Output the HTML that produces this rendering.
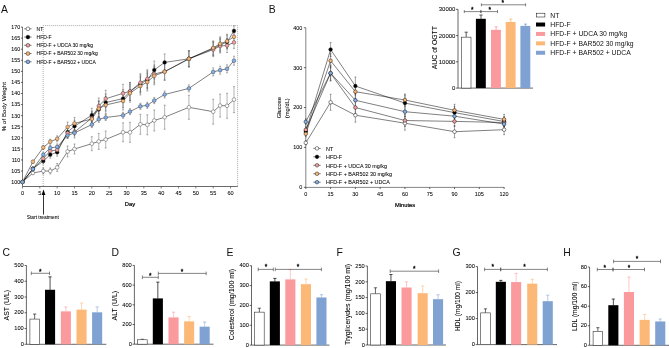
<!DOCTYPE html>
<html><head><meta charset="utf-8"><style>
html,body{margin:0;padding:0;background:#fff;}
svg{display:block;will-change:transform;}
text{font-family:"Liberation Sans",sans-serif;stroke:#000;stroke-width:0.06px;}
text.t{stroke:#000;stroke-width:0.05px;fill:#000;}
text.t2{stroke:none;fill:#111;}
</style></head><body>
<svg width="669" height="348" viewBox="0 0 669 348">
<rect width="669" height="348" fill="#fff"/>
<text class="t2" x="0.9" y="13.2" font-size="10.4" text-anchor="start" fill="#000" font-weight="normal" >A</text>
<text class="t2" x="268.8" y="12.6" font-size="10.4" text-anchor="start" fill="#000" font-weight="normal" >B</text>
<text class="t2" x="2.5" y="256.2" font-size="10.4" text-anchor="start" fill="#000" font-weight="normal" >C</text>
<text class="t2" x="111.4" y="256.2" font-size="10.4" text-anchor="start" fill="#000" font-weight="normal" >D</text>
<text class="t2" x="226.6" y="256.2" font-size="10.4" text-anchor="start" fill="#000" font-weight="normal" >E</text>
<text class="t2" x="336.6" y="256.2" font-size="10.4" text-anchor="start" fill="#000" font-weight="normal" >F</text>
<text class="t2" x="452.4" y="256.2" font-size="10.4" text-anchor="start" fill="#000" font-weight="normal" >G</text>
<text class="t2" x="563.3" y="256.2" font-size="10.4" text-anchor="start" fill="#000" font-weight="normal" >H</text>
<path d="M43.2,186 V25.6 H237.6 V186" fill="none" stroke="#555" stroke-width="0.5" stroke-dasharray="1,1"/>
<line x1="22.5" y1="27.05" x2="22.5" y2="186.5" stroke="#222" stroke-width="0.6" />
<line x1="22.5" y1="186.5" x2="237.8" y2="186.5" stroke="#444" stroke-width="0.8" />
<line x1="20.9" y1="182.1" x2="22.5" y2="182.1" stroke="#000" stroke-width="0.6" />
<text class="t" x="20.1" y="184" font-size="5.3" text-anchor="end" fill="#000" font-weight="normal" >100</text>
<line x1="20.9" y1="171.03" x2="22.5" y2="171.03" stroke="#000" stroke-width="0.6" />
<text class="t" x="20.1" y="172.93" font-size="5.3" text-anchor="end" fill="#000" font-weight="normal" >105</text>
<line x1="20.9" y1="159.95" x2="22.5" y2="159.95" stroke="#000" stroke-width="0.6" />
<text class="t" x="20.1" y="161.85" font-size="5.3" text-anchor="end" fill="#000" font-weight="normal" >110</text>
<line x1="20.9" y1="148.88" x2="22.5" y2="148.88" stroke="#000" stroke-width="0.6" />
<text class="t" x="20.1" y="150.78" font-size="5.3" text-anchor="end" fill="#000" font-weight="normal" >115</text>
<line x1="20.9" y1="137.8" x2="22.5" y2="137.8" stroke="#000" stroke-width="0.6" />
<text class="t" x="20.1" y="139.7" font-size="5.3" text-anchor="end" fill="#000" font-weight="normal" >120</text>
<line x1="20.9" y1="126.72" x2="22.5" y2="126.72" stroke="#000" stroke-width="0.6" />
<text class="t" x="20.1" y="128.62" font-size="5.3" text-anchor="end" fill="#000" font-weight="normal" >125</text>
<line x1="20.9" y1="115.65" x2="22.5" y2="115.65" stroke="#000" stroke-width="0.6" />
<text class="t" x="20.1" y="117.55" font-size="5.3" text-anchor="end" fill="#000" font-weight="normal" >130</text>
<line x1="20.9" y1="104.58" x2="22.5" y2="104.58" stroke="#000" stroke-width="0.6" />
<text class="t" x="20.1" y="106.48" font-size="5.3" text-anchor="end" fill="#000" font-weight="normal" >135</text>
<line x1="20.9" y1="93.5" x2="22.5" y2="93.5" stroke="#000" stroke-width="0.6" />
<text class="t" x="20.1" y="95.4" font-size="5.3" text-anchor="end" fill="#000" font-weight="normal" >140</text>
<line x1="20.9" y1="82.42" x2="22.5" y2="82.42" stroke="#000" stroke-width="0.6" />
<text class="t" x="20.1" y="84.33" font-size="5.3" text-anchor="end" fill="#000" font-weight="normal" >145</text>
<line x1="20.9" y1="71.35" x2="22.5" y2="71.35" stroke="#000" stroke-width="0.6" />
<text class="t" x="20.1" y="73.25" font-size="5.3" text-anchor="end" fill="#000" font-weight="normal" >150</text>
<line x1="20.9" y1="60.28" x2="22.5" y2="60.28" stroke="#000" stroke-width="0.6" />
<text class="t" x="20.1" y="62.18" font-size="5.3" text-anchor="end" fill="#000" font-weight="normal" >155</text>
<line x1="20.9" y1="49.2" x2="22.5" y2="49.2" stroke="#000" stroke-width="0.6" />
<text class="t" x="20.1" y="51.1" font-size="5.3" text-anchor="end" fill="#000" font-weight="normal" >160</text>
<line x1="20.9" y1="38.12" x2="22.5" y2="38.12" stroke="#000" stroke-width="0.6" />
<text class="t" x="20.1" y="40.02" font-size="5.3" text-anchor="end" fill="#000" font-weight="normal" >165</text>
<line x1="20.9" y1="27.05" x2="22.5" y2="27.05" stroke="#000" stroke-width="0.6" />
<text class="t" x="20.1" y="28.95" font-size="5.3" text-anchor="end" fill="#000" font-weight="normal" >170</text>
<line x1="22.5" y1="186.5" x2="22.5" y2="188.5" stroke="#333" stroke-width="0.6" />
<text class="t" x="22.5" y="194.8" font-size="5.6" text-anchor="middle" fill="#000" font-weight="normal" >0</text>
<line x1="39.84" y1="186.5" x2="39.84" y2="188.5" stroke="#333" stroke-width="0.6" />
<text class="t" x="39.84" y="194.8" font-size="5.6" text-anchor="middle" fill="#000" font-weight="normal" >5</text>
<line x1="57.17" y1="186.5" x2="57.17" y2="188.5" stroke="#333" stroke-width="0.6" />
<text class="t" x="57.17" y="194.8" font-size="5.6" text-anchor="middle" fill="#000" font-weight="normal" >10</text>
<line x1="74.5" y1="186.5" x2="74.5" y2="188.5" stroke="#333" stroke-width="0.6" />
<text class="t" x="74.5" y="194.8" font-size="5.6" text-anchor="middle" fill="#000" font-weight="normal" >15</text>
<line x1="91.84" y1="186.5" x2="91.84" y2="188.5" stroke="#333" stroke-width="0.6" />
<text class="t" x="91.84" y="194.8" font-size="5.6" text-anchor="middle" fill="#000" font-weight="normal" >20</text>
<line x1="109.17" y1="186.5" x2="109.17" y2="188.5" stroke="#333" stroke-width="0.6" />
<text class="t" x="109.17" y="194.8" font-size="5.6" text-anchor="middle" fill="#000" font-weight="normal" >25</text>
<line x1="126.51" y1="186.5" x2="126.51" y2="188.5" stroke="#333" stroke-width="0.6" />
<text class="t" x="126.51" y="194.8" font-size="5.6" text-anchor="middle" fill="#000" font-weight="normal" >30</text>
<line x1="143.84" y1="186.5" x2="143.84" y2="188.5" stroke="#333" stroke-width="0.6" />
<text class="t" x="143.84" y="194.8" font-size="5.6" text-anchor="middle" fill="#000" font-weight="normal" >35</text>
<line x1="161.18" y1="186.5" x2="161.18" y2="188.5" stroke="#333" stroke-width="0.6" />
<text class="t" x="161.18" y="194.8" font-size="5.6" text-anchor="middle" fill="#000" font-weight="normal" >40</text>
<line x1="178.52" y1="186.5" x2="178.52" y2="188.5" stroke="#333" stroke-width="0.6" />
<text class="t" x="178.52" y="194.8" font-size="5.6" text-anchor="middle" fill="#000" font-weight="normal" >45</text>
<line x1="195.85" y1="186.5" x2="195.85" y2="188.5" stroke="#333" stroke-width="0.6" />
<text class="t" x="195.85" y="194.8" font-size="5.6" text-anchor="middle" fill="#000" font-weight="normal" >50</text>
<line x1="213.19" y1="186.5" x2="213.19" y2="188.5" stroke="#333" stroke-width="0.6" />
<text class="t" x="213.19" y="194.8" font-size="5.6" text-anchor="middle" fill="#000" font-weight="normal" >55</text>
<line x1="230.52" y1="186.5" x2="230.52" y2="188.5" stroke="#333" stroke-width="0.6" />
<text class="t" x="230.52" y="194.8" font-size="5.6" text-anchor="middle" fill="#000" font-weight="normal" >60</text>
<text x="0" y="0" font-size="6.2" text-anchor="middle" fill="#000" font-weight="normal" transform="translate(5.83,106.6) rotate(-90)">% of Body Weight</text>
<text x="130" y="205.8" font-size="5.8" text-anchor="middle" fill="#000" font-weight="normal" style="stroke-width:0.2px">Day</text>
<line x1="43.5" y1="193.5" x2="43.5" y2="214.5" stroke="#000" stroke-width="0.8" />
<path d="M43.5,189.6 L41.6,195 L45.4,195 Z" fill="#000"/>
<text class="t" x="42.8" y="219" font-size="4.85" text-anchor="middle" fill="#000" font-weight="normal" >Start treatment</text>
<line x1="32.9" y1="171.5" x2="32.9" y2="174.5" stroke="#555" stroke-width="0.45" />
<line x1="31.9" y1="171.5" x2="33.9" y2="171.5" stroke="#555" stroke-width="0.45" />
<line x1="31.9" y1="174.5" x2="33.9" y2="174.5" stroke="#555" stroke-width="0.45" />
<line x1="43.3" y1="168" x2="43.3" y2="174" stroke="#555" stroke-width="0.45" />
<line x1="42.3" y1="168" x2="44.3" y2="168" stroke="#555" stroke-width="0.45" />
<line x1="42.3" y1="174" x2="44.3" y2="174" stroke="#555" stroke-width="0.45" />
<line x1="50.24" y1="168" x2="50.24" y2="174" stroke="#555" stroke-width="0.45" />
<line x1="49.24" y1="168" x2="51.24" y2="168" stroke="#555" stroke-width="0.45" />
<line x1="49.24" y1="174" x2="51.24" y2="174" stroke="#555" stroke-width="0.45" />
<line x1="57.17" y1="163.5" x2="57.17" y2="171.5" stroke="#555" stroke-width="0.45" />
<line x1="56.17" y1="163.5" x2="58.17" y2="163.5" stroke="#555" stroke-width="0.45" />
<line x1="56.17" y1="171.5" x2="58.17" y2="171.5" stroke="#555" stroke-width="0.45" />
<line x1="67.57" y1="146" x2="67.57" y2="157" stroke="#555" stroke-width="0.45" />
<line x1="66.57" y1="146" x2="68.57" y2="146" stroke="#555" stroke-width="0.45" />
<line x1="66.57" y1="157" x2="68.57" y2="157" stroke="#555" stroke-width="0.45" />
<line x1="74.5" y1="144" x2="74.5" y2="154" stroke="#555" stroke-width="0.45" />
<line x1="73.5" y1="144" x2="75.5" y2="144" stroke="#555" stroke-width="0.45" />
<line x1="73.5" y1="154" x2="75.5" y2="154" stroke="#555" stroke-width="0.45" />
<line x1="91.84" y1="136.7" x2="91.84" y2="150.7" stroke="#555" stroke-width="0.45" />
<line x1="90.84" y1="136.7" x2="92.84" y2="136.7" stroke="#555" stroke-width="0.45" />
<line x1="90.84" y1="150.7" x2="92.84" y2="150.7" stroke="#555" stroke-width="0.45" />
<line x1="98.77" y1="133.4" x2="98.77" y2="149.4" stroke="#555" stroke-width="0.45" />
<line x1="97.77" y1="133.4" x2="99.77" y2="133.4" stroke="#555" stroke-width="0.45" />
<line x1="97.77" y1="149.4" x2="99.77" y2="149.4" stroke="#555" stroke-width="0.45" />
<line x1="105.71" y1="131" x2="105.71" y2="148" stroke="#555" stroke-width="0.45" />
<line x1="104.71" y1="131" x2="106.71" y2="131" stroke="#555" stroke-width="0.45" />
<line x1="104.71" y1="148" x2="106.71" y2="148" stroke="#555" stroke-width="0.45" />
<line x1="123.04" y1="122.8" x2="123.04" y2="141.8" stroke="#555" stroke-width="0.45" />
<line x1="122.04" y1="122.8" x2="124.04" y2="122.8" stroke="#555" stroke-width="0.45" />
<line x1="122.04" y1="141.8" x2="124.04" y2="141.8" stroke="#555" stroke-width="0.45" />
<line x1="129.98" y1="122.3" x2="129.98" y2="142.3" stroke="#555" stroke-width="0.45" />
<line x1="128.98" y1="122.3" x2="130.98" y2="122.3" stroke="#555" stroke-width="0.45" />
<line x1="128.98" y1="142.3" x2="130.98" y2="142.3" stroke="#555" stroke-width="0.45" />
<line x1="140.38" y1="114.3" x2="140.38" y2="134.3" stroke="#555" stroke-width="0.45" />
<line x1="139.38" y1="114.3" x2="141.38" y2="114.3" stroke="#555" stroke-width="0.45" />
<line x1="139.38" y1="134.3" x2="141.38" y2="134.3" stroke="#555" stroke-width="0.45" />
<line x1="147.31" y1="114.8" x2="147.31" y2="134.8" stroke="#555" stroke-width="0.45" />
<line x1="146.31" y1="114.8" x2="148.31" y2="114.8" stroke="#555" stroke-width="0.45" />
<line x1="146.31" y1="134.8" x2="148.31" y2="134.8" stroke="#555" stroke-width="0.45" />
<line x1="154.25" y1="110" x2="154.25" y2="131" stroke="#555" stroke-width="0.45" />
<line x1="153.25" y1="110" x2="155.25" y2="110" stroke="#555" stroke-width="0.45" />
<line x1="153.25" y1="131" x2="155.25" y2="131" stroke="#555" stroke-width="0.45" />
<line x1="164.65" y1="105.2" x2="164.65" y2="129.2" stroke="#555" stroke-width="0.45" />
<line x1="163.65" y1="105.2" x2="165.65" y2="105.2" stroke="#555" stroke-width="0.45" />
<line x1="163.65" y1="129.2" x2="165.65" y2="129.2" stroke="#555" stroke-width="0.45" />
<line x1="188.92" y1="95.3" x2="188.92" y2="119.3" stroke="#555" stroke-width="0.45" />
<line x1="187.92" y1="95.3" x2="189.92" y2="95.3" stroke="#555" stroke-width="0.45" />
<line x1="187.92" y1="119.3" x2="189.92" y2="119.3" stroke="#555" stroke-width="0.45" />
<line x1="213.19" y1="99.2" x2="213.19" y2="124.2" stroke="#555" stroke-width="0.45" />
<line x1="212.19" y1="99.2" x2="214.19" y2="99.2" stroke="#555" stroke-width="0.45" />
<line x1="212.19" y1="124.2" x2="214.19" y2="124.2" stroke="#555" stroke-width="0.45" />
<line x1="220.12" y1="94.1" x2="220.12" y2="117.1" stroke="#555" stroke-width="0.45" />
<line x1="219.12" y1="94.1" x2="221.12" y2="94.1" stroke="#555" stroke-width="0.45" />
<line x1="219.12" y1="117.1" x2="221.12" y2="117.1" stroke="#555" stroke-width="0.45" />
<line x1="227.05" y1="93.3" x2="227.05" y2="118.3" stroke="#555" stroke-width="0.45" />
<line x1="226.05" y1="93.3" x2="228.05" y2="93.3" stroke="#555" stroke-width="0.45" />
<line x1="226.05" y1="118.3" x2="228.05" y2="118.3" stroke="#555" stroke-width="0.45" />
<line x1="233.99" y1="86.6" x2="233.99" y2="112.6" stroke="#555" stroke-width="0.45" />
<line x1="232.99" y1="86.6" x2="234.99" y2="86.6" stroke="#555" stroke-width="0.45" />
<line x1="232.99" y1="112.6" x2="234.99" y2="112.6" stroke="#555" stroke-width="0.45" />
<line x1="32.9" y1="166.8" x2="32.9" y2="170.8" stroke="#555" stroke-width="0.45" />
<line x1="31.9" y1="166.8" x2="33.9" y2="166.8" stroke="#555" stroke-width="0.45" />
<line x1="31.9" y1="170.8" x2="33.9" y2="170.8" stroke="#555" stroke-width="0.45" />
<line x1="43.3" y1="158" x2="43.3" y2="164" stroke="#555" stroke-width="0.45" />
<line x1="42.3" y1="158" x2="44.3" y2="158" stroke="#555" stroke-width="0.45" />
<line x1="42.3" y1="164" x2="44.3" y2="164" stroke="#555" stroke-width="0.45" />
<line x1="50.24" y1="151.2" x2="50.24" y2="158.2" stroke="#555" stroke-width="0.45" />
<line x1="49.24" y1="151.2" x2="51.24" y2="151.2" stroke="#555" stroke-width="0.45" />
<line x1="49.24" y1="158.2" x2="51.24" y2="158.2" stroke="#555" stroke-width="0.45" />
<line x1="57.17" y1="148.2" x2="57.17" y2="156.2" stroke="#555" stroke-width="0.45" />
<line x1="56.17" y1="148.2" x2="58.17" y2="148.2" stroke="#555" stroke-width="0.45" />
<line x1="56.17" y1="156.2" x2="58.17" y2="156.2" stroke="#555" stroke-width="0.45" />
<line x1="67.57" y1="127" x2="67.57" y2="137" stroke="#555" stroke-width="0.45" />
<line x1="66.57" y1="127" x2="68.57" y2="127" stroke="#555" stroke-width="0.45" />
<line x1="66.57" y1="137" x2="68.57" y2="137" stroke="#555" stroke-width="0.45" />
<line x1="74.5" y1="120.2" x2="74.5" y2="132.2" stroke="#555" stroke-width="0.45" />
<line x1="73.5" y1="120.2" x2="75.5" y2="120.2" stroke="#555" stroke-width="0.45" />
<line x1="73.5" y1="132.2" x2="75.5" y2="132.2" stroke="#555" stroke-width="0.45" />
<line x1="91.84" y1="108.2" x2="91.84" y2="122.2" stroke="#555" stroke-width="0.45" />
<line x1="90.84" y1="108.2" x2="92.84" y2="108.2" stroke="#555" stroke-width="0.45" />
<line x1="90.84" y1="122.2" x2="92.84" y2="122.2" stroke="#555" stroke-width="0.45" />
<line x1="98.77" y1="101.5" x2="98.77" y2="117.5" stroke="#555" stroke-width="0.45" />
<line x1="97.77" y1="101.5" x2="99.77" y2="101.5" stroke="#555" stroke-width="0.45" />
<line x1="97.77" y1="117.5" x2="99.77" y2="117.5" stroke="#555" stroke-width="0.45" />
<line x1="105.71" y1="94" x2="105.71" y2="111" stroke="#555" stroke-width="0.45" />
<line x1="104.71" y1="94" x2="106.71" y2="94" stroke="#555" stroke-width="0.45" />
<line x1="104.71" y1="111" x2="106.71" y2="111" stroke="#555" stroke-width="0.45" />
<line x1="123.04" y1="89.6" x2="123.04" y2="107.6" stroke="#555" stroke-width="0.45" />
<line x1="122.04" y1="89.6" x2="124.04" y2="89.6" stroke="#555" stroke-width="0.45" />
<line x1="122.04" y1="107.6" x2="124.04" y2="107.6" stroke="#555" stroke-width="0.45" />
<line x1="129.98" y1="82.5" x2="129.98" y2="100.5" stroke="#555" stroke-width="0.45" />
<line x1="128.98" y1="82.5" x2="130.98" y2="82.5" stroke="#555" stroke-width="0.45" />
<line x1="128.98" y1="100.5" x2="130.98" y2="100.5" stroke="#555" stroke-width="0.45" />
<line x1="140.38" y1="75" x2="140.38" y2="93" stroke="#555" stroke-width="0.45" />
<line x1="139.38" y1="75" x2="141.38" y2="75" stroke="#555" stroke-width="0.45" />
<line x1="139.38" y1="93" x2="141.38" y2="93" stroke="#555" stroke-width="0.45" />
<line x1="147.31" y1="71" x2="147.31" y2="89" stroke="#555" stroke-width="0.45" />
<line x1="146.31" y1="71" x2="148.31" y2="71" stroke="#555" stroke-width="0.45" />
<line x1="146.31" y1="89" x2="148.31" y2="89" stroke="#555" stroke-width="0.45" />
<line x1="154.25" y1="61" x2="154.25" y2="79" stroke="#555" stroke-width="0.45" />
<line x1="153.25" y1="61" x2="155.25" y2="61" stroke="#555" stroke-width="0.45" />
<line x1="153.25" y1="79" x2="155.25" y2="79" stroke="#555" stroke-width="0.45" />
<line x1="164.65" y1="53.9" x2="164.65" y2="70.9" stroke="#555" stroke-width="0.45" />
<line x1="163.65" y1="53.9" x2="165.65" y2="53.9" stroke="#555" stroke-width="0.45" />
<line x1="163.65" y1="70.9" x2="165.65" y2="70.9" stroke="#555" stroke-width="0.45" />
<line x1="188.92" y1="50.8" x2="188.92" y2="66.8" stroke="#555" stroke-width="0.45" />
<line x1="187.92" y1="50.8" x2="189.92" y2="50.8" stroke="#555" stroke-width="0.45" />
<line x1="187.92" y1="66.8" x2="189.92" y2="66.8" stroke="#555" stroke-width="0.45" />
<line x1="213.19" y1="41.5" x2="213.19" y2="55.5" stroke="#555" stroke-width="0.45" />
<line x1="212.19" y1="41.5" x2="214.19" y2="41.5" stroke="#555" stroke-width="0.45" />
<line x1="212.19" y1="55.5" x2="214.19" y2="55.5" stroke="#555" stroke-width="0.45" />
<line x1="220.12" y1="38" x2="220.12" y2="52" stroke="#555" stroke-width="0.45" />
<line x1="219.12" y1="38" x2="221.12" y2="38" stroke="#555" stroke-width="0.45" />
<line x1="219.12" y1="52" x2="221.12" y2="52" stroke="#555" stroke-width="0.45" />
<line x1="227.05" y1="35" x2="227.05" y2="49" stroke="#555" stroke-width="0.45" />
<line x1="226.05" y1="35" x2="228.05" y2="35" stroke="#555" stroke-width="0.45" />
<line x1="226.05" y1="49" x2="228.05" y2="49" stroke="#555" stroke-width="0.45" />
<line x1="233.99" y1="25.9" x2="233.99" y2="35.9" stroke="#555" stroke-width="0.45" />
<line x1="232.99" y1="25.9" x2="234.99" y2="25.9" stroke="#555" stroke-width="0.45" />
<line x1="232.99" y1="35.9" x2="234.99" y2="35.9" stroke="#555" stroke-width="0.45" />
<line x1="32.9" y1="167" x2="32.9" y2="171" stroke="#555" stroke-width="0.45" />
<line x1="31.9" y1="167" x2="33.9" y2="167" stroke="#555" stroke-width="0.45" />
<line x1="31.9" y1="171" x2="33.9" y2="171" stroke="#555" stroke-width="0.45" />
<line x1="43.3" y1="155.5" x2="43.3" y2="161.5" stroke="#555" stroke-width="0.45" />
<line x1="42.3" y1="155.5" x2="44.3" y2="155.5" stroke="#555" stroke-width="0.45" />
<line x1="42.3" y1="161.5" x2="44.3" y2="161.5" stroke="#555" stroke-width="0.45" />
<line x1="50.24" y1="147.5" x2="50.24" y2="154.5" stroke="#555" stroke-width="0.45" />
<line x1="49.24" y1="147.5" x2="51.24" y2="147.5" stroke="#555" stroke-width="0.45" />
<line x1="49.24" y1="154.5" x2="51.24" y2="154.5" stroke="#555" stroke-width="0.45" />
<line x1="57.17" y1="146" x2="57.17" y2="154" stroke="#555" stroke-width="0.45" />
<line x1="56.17" y1="146" x2="58.17" y2="146" stroke="#555" stroke-width="0.45" />
<line x1="56.17" y1="154" x2="58.17" y2="154" stroke="#555" stroke-width="0.45" />
<line x1="67.57" y1="128" x2="67.57" y2="138" stroke="#555" stroke-width="0.45" />
<line x1="66.57" y1="128" x2="68.57" y2="128" stroke="#555" stroke-width="0.45" />
<line x1="66.57" y1="138" x2="68.57" y2="138" stroke="#555" stroke-width="0.45" />
<line x1="74.5" y1="126" x2="74.5" y2="138" stroke="#555" stroke-width="0.45" />
<line x1="73.5" y1="126" x2="75.5" y2="126" stroke="#555" stroke-width="0.45" />
<line x1="73.5" y1="138" x2="75.5" y2="138" stroke="#555" stroke-width="0.45" />
<line x1="91.84" y1="111" x2="91.84" y2="125" stroke="#555" stroke-width="0.45" />
<line x1="90.84" y1="111" x2="92.84" y2="111" stroke="#555" stroke-width="0.45" />
<line x1="90.84" y1="125" x2="92.84" y2="125" stroke="#555" stroke-width="0.45" />
<line x1="98.77" y1="98" x2="98.77" y2="114" stroke="#555" stroke-width="0.45" />
<line x1="97.77" y1="98" x2="99.77" y2="98" stroke="#555" stroke-width="0.45" />
<line x1="97.77" y1="114" x2="99.77" y2="114" stroke="#555" stroke-width="0.45" />
<line x1="105.71" y1="90.3" x2="105.71" y2="107.3" stroke="#555" stroke-width="0.45" />
<line x1="104.71" y1="90.3" x2="106.71" y2="90.3" stroke="#555" stroke-width="0.45" />
<line x1="104.71" y1="107.3" x2="106.71" y2="107.3" stroke="#555" stroke-width="0.45" />
<line x1="123.04" y1="84.3" x2="123.04" y2="102.3" stroke="#555" stroke-width="0.45" />
<line x1="122.04" y1="84.3" x2="124.04" y2="84.3" stroke="#555" stroke-width="0.45" />
<line x1="122.04" y1="102.3" x2="124.04" y2="102.3" stroke="#555" stroke-width="0.45" />
<line x1="129.98" y1="82.4" x2="129.98" y2="100.4" stroke="#555" stroke-width="0.45" />
<line x1="128.98" y1="82.4" x2="130.98" y2="82.4" stroke="#555" stroke-width="0.45" />
<line x1="128.98" y1="100.4" x2="130.98" y2="100.4" stroke="#555" stroke-width="0.45" />
<line x1="140.38" y1="73.7" x2="140.38" y2="91.7" stroke="#555" stroke-width="0.45" />
<line x1="139.38" y1="73.7" x2="141.38" y2="73.7" stroke="#555" stroke-width="0.45" />
<line x1="139.38" y1="91.7" x2="141.38" y2="91.7" stroke="#555" stroke-width="0.45" />
<line x1="147.31" y1="69.8" x2="147.31" y2="87.8" stroke="#555" stroke-width="0.45" />
<line x1="146.31" y1="69.8" x2="148.31" y2="69.8" stroke="#555" stroke-width="0.45" />
<line x1="146.31" y1="87.8" x2="148.31" y2="87.8" stroke="#555" stroke-width="0.45" />
<line x1="154.25" y1="65" x2="154.25" y2="83" stroke="#555" stroke-width="0.45" />
<line x1="153.25" y1="65" x2="155.25" y2="65" stroke="#555" stroke-width="0.45" />
<line x1="153.25" y1="83" x2="155.25" y2="83" stroke="#555" stroke-width="0.45" />
<line x1="164.65" y1="63" x2="164.65" y2="80" stroke="#555" stroke-width="0.45" />
<line x1="163.65" y1="63" x2="165.65" y2="63" stroke="#555" stroke-width="0.45" />
<line x1="163.65" y1="80" x2="165.65" y2="80" stroke="#555" stroke-width="0.45" />
<line x1="188.92" y1="50.8" x2="188.92" y2="66.8" stroke="#555" stroke-width="0.45" />
<line x1="187.92" y1="50.8" x2="189.92" y2="50.8" stroke="#555" stroke-width="0.45" />
<line x1="187.92" y1="66.8" x2="189.92" y2="66.8" stroke="#555" stroke-width="0.45" />
<line x1="213.19" y1="42.6" x2="213.19" y2="56.6" stroke="#555" stroke-width="0.45" />
<line x1="212.19" y1="42.6" x2="214.19" y2="42.6" stroke="#555" stroke-width="0.45" />
<line x1="212.19" y1="56.6" x2="214.19" y2="56.6" stroke="#555" stroke-width="0.45" />
<line x1="220.12" y1="39" x2="220.12" y2="53" stroke="#555" stroke-width="0.45" />
<line x1="219.12" y1="39" x2="221.12" y2="39" stroke="#555" stroke-width="0.45" />
<line x1="219.12" y1="53" x2="221.12" y2="53" stroke="#555" stroke-width="0.45" />
<line x1="227.05" y1="38.5" x2="227.05" y2="52.5" stroke="#555" stroke-width="0.45" />
<line x1="226.05" y1="38.5" x2="228.05" y2="38.5" stroke="#555" stroke-width="0.45" />
<line x1="226.05" y1="52.5" x2="228.05" y2="52.5" stroke="#555" stroke-width="0.45" />
<line x1="233.99" y1="36.4" x2="233.99" y2="48.4" stroke="#555" stroke-width="0.45" />
<line x1="232.99" y1="36.4" x2="234.99" y2="36.4" stroke="#555" stroke-width="0.45" />
<line x1="232.99" y1="48.4" x2="234.99" y2="48.4" stroke="#555" stroke-width="0.45" />
<line x1="32.9" y1="160.2" x2="32.9" y2="163.2" stroke="#555" stroke-width="0.45" />
<line x1="31.9" y1="160.2" x2="33.9" y2="160.2" stroke="#555" stroke-width="0.45" />
<line x1="31.9" y1="163.2" x2="33.9" y2="163.2" stroke="#555" stroke-width="0.45" />
<line x1="43.3" y1="145.4" x2="43.3" y2="149.4" stroke="#555" stroke-width="0.45" />
<line x1="42.3" y1="145.4" x2="44.3" y2="145.4" stroke="#555" stroke-width="0.45" />
<line x1="42.3" y1="149.4" x2="44.3" y2="149.4" stroke="#555" stroke-width="0.45" />
<line x1="50.24" y1="139.2" x2="50.24" y2="144.2" stroke="#555" stroke-width="0.45" />
<line x1="49.24" y1="139.2" x2="51.24" y2="139.2" stroke="#555" stroke-width="0.45" />
<line x1="49.24" y1="144.2" x2="51.24" y2="144.2" stroke="#555" stroke-width="0.45" />
<line x1="57.17" y1="135.8" x2="57.17" y2="141.8" stroke="#555" stroke-width="0.45" />
<line x1="56.17" y1="135.8" x2="58.17" y2="135.8" stroke="#555" stroke-width="0.45" />
<line x1="56.17" y1="141.8" x2="58.17" y2="141.8" stroke="#555" stroke-width="0.45" />
<line x1="67.57" y1="122" x2="67.57" y2="132" stroke="#555" stroke-width="0.45" />
<line x1="66.57" y1="122" x2="68.57" y2="122" stroke="#555" stroke-width="0.45" />
<line x1="66.57" y1="132" x2="68.57" y2="132" stroke="#555" stroke-width="0.45" />
<line x1="74.5" y1="117.4" x2="74.5" y2="129.4" stroke="#555" stroke-width="0.45" />
<line x1="73.5" y1="117.4" x2="75.5" y2="117.4" stroke="#555" stroke-width="0.45" />
<line x1="73.5" y1="129.4" x2="75.5" y2="129.4" stroke="#555" stroke-width="0.45" />
<line x1="91.84" y1="112" x2="91.84" y2="126" stroke="#555" stroke-width="0.45" />
<line x1="90.84" y1="112" x2="92.84" y2="112" stroke="#555" stroke-width="0.45" />
<line x1="90.84" y1="126" x2="92.84" y2="126" stroke="#555" stroke-width="0.45" />
<line x1="98.77" y1="100.7" x2="98.77" y2="116.7" stroke="#555" stroke-width="0.45" />
<line x1="97.77" y1="100.7" x2="99.77" y2="100.7" stroke="#555" stroke-width="0.45" />
<line x1="97.77" y1="116.7" x2="99.77" y2="116.7" stroke="#555" stroke-width="0.45" />
<line x1="105.71" y1="96.5" x2="105.71" y2="113.5" stroke="#555" stroke-width="0.45" />
<line x1="104.71" y1="96.5" x2="106.71" y2="96.5" stroke="#555" stroke-width="0.45" />
<line x1="104.71" y1="113.5" x2="106.71" y2="113.5" stroke="#555" stroke-width="0.45" />
<line x1="123.04" y1="92" x2="123.04" y2="110" stroke="#555" stroke-width="0.45" />
<line x1="122.04" y1="92" x2="124.04" y2="92" stroke="#555" stroke-width="0.45" />
<line x1="122.04" y1="110" x2="124.04" y2="110" stroke="#555" stroke-width="0.45" />
<line x1="129.98" y1="84.2" x2="129.98" y2="102.2" stroke="#555" stroke-width="0.45" />
<line x1="128.98" y1="84.2" x2="130.98" y2="84.2" stroke="#555" stroke-width="0.45" />
<line x1="128.98" y1="102.2" x2="130.98" y2="102.2" stroke="#555" stroke-width="0.45" />
<line x1="140.38" y1="77" x2="140.38" y2="95" stroke="#555" stroke-width="0.45" />
<line x1="139.38" y1="77" x2="141.38" y2="77" stroke="#555" stroke-width="0.45" />
<line x1="139.38" y1="95" x2="141.38" y2="95" stroke="#555" stroke-width="0.45" />
<line x1="147.31" y1="73" x2="147.31" y2="91" stroke="#555" stroke-width="0.45" />
<line x1="146.31" y1="73" x2="148.31" y2="73" stroke="#555" stroke-width="0.45" />
<line x1="146.31" y1="91" x2="148.31" y2="91" stroke="#555" stroke-width="0.45" />
<line x1="154.25" y1="66.8" x2="154.25" y2="84.8" stroke="#555" stroke-width="0.45" />
<line x1="153.25" y1="66.8" x2="155.25" y2="66.8" stroke="#555" stroke-width="0.45" />
<line x1="153.25" y1="84.8" x2="155.25" y2="84.8" stroke="#555" stroke-width="0.45" />
<line x1="164.65" y1="63.3" x2="164.65" y2="80.3" stroke="#555" stroke-width="0.45" />
<line x1="163.65" y1="63.3" x2="165.65" y2="63.3" stroke="#555" stroke-width="0.45" />
<line x1="163.65" y1="80.3" x2="165.65" y2="80.3" stroke="#555" stroke-width="0.45" />
<line x1="188.92" y1="50.8" x2="188.92" y2="66.8" stroke="#555" stroke-width="0.45" />
<line x1="187.92" y1="50.8" x2="189.92" y2="50.8" stroke="#555" stroke-width="0.45" />
<line x1="187.92" y1="66.8" x2="189.92" y2="66.8" stroke="#555" stroke-width="0.45" />
<line x1="213.19" y1="40.9" x2="213.19" y2="54.9" stroke="#555" stroke-width="0.45" />
<line x1="212.19" y1="40.9" x2="214.19" y2="40.9" stroke="#555" stroke-width="0.45" />
<line x1="212.19" y1="54.9" x2="214.19" y2="54.9" stroke="#555" stroke-width="0.45" />
<line x1="220.12" y1="36.8" x2="220.12" y2="50.8" stroke="#555" stroke-width="0.45" />
<line x1="219.12" y1="36.8" x2="221.12" y2="36.8" stroke="#555" stroke-width="0.45" />
<line x1="219.12" y1="50.8" x2="221.12" y2="50.8" stroke="#555" stroke-width="0.45" />
<line x1="227.05" y1="34.2" x2="227.05" y2="48.2" stroke="#555" stroke-width="0.45" />
<line x1="226.05" y1="34.2" x2="228.05" y2="34.2" stroke="#555" stroke-width="0.45" />
<line x1="226.05" y1="48.2" x2="228.05" y2="48.2" stroke="#555" stroke-width="0.45" />
<line x1="233.99" y1="30.8" x2="233.99" y2="42.8" stroke="#555" stroke-width="0.45" />
<line x1="232.99" y1="30.8" x2="234.99" y2="30.8" stroke="#555" stroke-width="0.45" />
<line x1="232.99" y1="42.8" x2="234.99" y2="42.8" stroke="#555" stroke-width="0.45" />
<line x1="32.9" y1="167.5" x2="32.9" y2="170.5" stroke="#555" stroke-width="0.45" />
<line x1="31.9" y1="167.5" x2="33.9" y2="167.5" stroke="#555" stroke-width="0.45" />
<line x1="31.9" y1="170.5" x2="33.9" y2="170.5" stroke="#555" stroke-width="0.45" />
<line x1="43.3" y1="152.7" x2="43.3" y2="156.7" stroke="#555" stroke-width="0.45" />
<line x1="42.3" y1="152.7" x2="44.3" y2="152.7" stroke="#555" stroke-width="0.45" />
<line x1="42.3" y1="156.7" x2="44.3" y2="156.7" stroke="#555" stroke-width="0.45" />
<line x1="50.24" y1="145.4" x2="50.24" y2="150.4" stroke="#555" stroke-width="0.45" />
<line x1="49.24" y1="145.4" x2="51.24" y2="145.4" stroke="#555" stroke-width="0.45" />
<line x1="49.24" y1="150.4" x2="51.24" y2="150.4" stroke="#555" stroke-width="0.45" />
<line x1="57.17" y1="143.9" x2="57.17" y2="149.9" stroke="#555" stroke-width="0.45" />
<line x1="56.17" y1="143.9" x2="58.17" y2="143.9" stroke="#555" stroke-width="0.45" />
<line x1="56.17" y1="149.9" x2="58.17" y2="149.9" stroke="#555" stroke-width="0.45" />
<line x1="67.57" y1="132.5" x2="67.57" y2="138.5" stroke="#555" stroke-width="0.45" />
<line x1="66.57" y1="132.5" x2="68.57" y2="132.5" stroke="#555" stroke-width="0.45" />
<line x1="66.57" y1="138.5" x2="68.57" y2="138.5" stroke="#555" stroke-width="0.45" />
<line x1="74.5" y1="129.9" x2="74.5" y2="135.9" stroke="#555" stroke-width="0.45" />
<line x1="73.5" y1="129.9" x2="75.5" y2="129.9" stroke="#555" stroke-width="0.45" />
<line x1="73.5" y1="135.9" x2="75.5" y2="135.9" stroke="#555" stroke-width="0.45" />
<line x1="91.84" y1="121.6" x2="91.84" y2="127.6" stroke="#555" stroke-width="0.45" />
<line x1="90.84" y1="121.6" x2="92.84" y2="121.6" stroke="#555" stroke-width="0.45" />
<line x1="90.84" y1="127.6" x2="92.84" y2="127.6" stroke="#555" stroke-width="0.45" />
<line x1="98.77" y1="116.3" x2="98.77" y2="122.3" stroke="#555" stroke-width="0.45" />
<line x1="97.77" y1="116.3" x2="99.77" y2="116.3" stroke="#555" stroke-width="0.45" />
<line x1="97.77" y1="122.3" x2="99.77" y2="122.3" stroke="#555" stroke-width="0.45" />
<line x1="105.71" y1="114.5" x2="105.71" y2="120.5" stroke="#555" stroke-width="0.45" />
<line x1="104.71" y1="114.5" x2="106.71" y2="114.5" stroke="#555" stroke-width="0.45" />
<line x1="104.71" y1="120.5" x2="106.71" y2="120.5" stroke="#555" stroke-width="0.45" />
<line x1="123.04" y1="112.3" x2="123.04" y2="118.3" stroke="#555" stroke-width="0.45" />
<line x1="122.04" y1="112.3" x2="124.04" y2="112.3" stroke="#555" stroke-width="0.45" />
<line x1="122.04" y1="118.3" x2="124.04" y2="118.3" stroke="#555" stroke-width="0.45" />
<line x1="129.98" y1="108.6" x2="129.98" y2="114.6" stroke="#555" stroke-width="0.45" />
<line x1="128.98" y1="108.6" x2="130.98" y2="108.6" stroke="#555" stroke-width="0.45" />
<line x1="128.98" y1="114.6" x2="130.98" y2="114.6" stroke="#555" stroke-width="0.45" />
<line x1="140.38" y1="103.3" x2="140.38" y2="109.3" stroke="#555" stroke-width="0.45" />
<line x1="139.38" y1="103.3" x2="141.38" y2="103.3" stroke="#555" stroke-width="0.45" />
<line x1="139.38" y1="109.3" x2="141.38" y2="109.3" stroke="#555" stroke-width="0.45" />
<line x1="147.31" y1="102.3" x2="147.31" y2="108.3" stroke="#555" stroke-width="0.45" />
<line x1="146.31" y1="102.3" x2="148.31" y2="102.3" stroke="#555" stroke-width="0.45" />
<line x1="146.31" y1="108.3" x2="148.31" y2="108.3" stroke="#555" stroke-width="0.45" />
<line x1="154.25" y1="97.6" x2="154.25" y2="103.6" stroke="#555" stroke-width="0.45" />
<line x1="153.25" y1="97.6" x2="155.25" y2="97.6" stroke="#555" stroke-width="0.45" />
<line x1="153.25" y1="103.6" x2="155.25" y2="103.6" stroke="#555" stroke-width="0.45" />
<line x1="164.65" y1="91" x2="164.65" y2="98" stroke="#555" stroke-width="0.45" />
<line x1="163.65" y1="91" x2="165.65" y2="91" stroke="#555" stroke-width="0.45" />
<line x1="163.65" y1="98" x2="165.65" y2="98" stroke="#555" stroke-width="0.45" />
<line x1="188.92" y1="84.9" x2="188.92" y2="91.9" stroke="#555" stroke-width="0.45" />
<line x1="187.92" y1="84.9" x2="189.92" y2="84.9" stroke="#555" stroke-width="0.45" />
<line x1="187.92" y1="91.9" x2="189.92" y2="91.9" stroke="#555" stroke-width="0.45" />
<line x1="213.19" y1="67.9" x2="213.19" y2="75.9" stroke="#555" stroke-width="0.45" />
<line x1="212.19" y1="67.9" x2="214.19" y2="67.9" stroke="#555" stroke-width="0.45" />
<line x1="212.19" y1="75.9" x2="214.19" y2="75.9" stroke="#555" stroke-width="0.45" />
<line x1="220.12" y1="66.2" x2="220.12" y2="74.2" stroke="#555" stroke-width="0.45" />
<line x1="219.12" y1="66.2" x2="221.12" y2="66.2" stroke="#555" stroke-width="0.45" />
<line x1="219.12" y1="74.2" x2="221.12" y2="74.2" stroke="#555" stroke-width="0.45" />
<line x1="227.05" y1="64.8" x2="227.05" y2="72.8" stroke="#555" stroke-width="0.45" />
<line x1="226.05" y1="64.8" x2="228.05" y2="64.8" stroke="#555" stroke-width="0.45" />
<line x1="226.05" y1="72.8" x2="228.05" y2="72.8" stroke="#555" stroke-width="0.45" />
<line x1="233.99" y1="56.2" x2="233.99" y2="65.2" stroke="#555" stroke-width="0.45" />
<line x1="232.99" y1="56.2" x2="234.99" y2="56.2" stroke="#555" stroke-width="0.45" />
<line x1="232.99" y1="65.2" x2="234.99" y2="65.2" stroke="#555" stroke-width="0.45" />
<polyline points="22.5,182 32.9,173 43.3,171 50.24,171 57.17,167.5 67.57,151.5 74.5,149 91.84,143.7 98.77,141.4 105.71,139.5 123.04,132.3 129.98,132.3 140.38,124.3 147.31,124.8 154.25,120.5 164.65,117.2 188.92,107.3 213.19,111.7 220.12,105.6 227.05,105.8 233.99,99.6" fill="none" stroke="#000" stroke-width="0.5"/>
<polyline points="22.5,182 32.9,168.8 43.3,161 50.24,154.7 57.17,152.2 67.57,132 74.5,126.2 91.84,115.2 98.77,109.5 105.71,102.5 123.04,98.6 129.98,91.5 140.38,84 147.31,80 154.25,70 164.65,62.4 188.92,58.8 213.19,48.5 220.12,45 227.05,42 233.99,30.9" fill="none" stroke="#000" stroke-width="0.5"/>
<polyline points="22.5,182 32.9,169 43.3,158.5 50.24,151 57.17,150 67.57,133 74.5,132 91.84,118 98.77,106 105.71,98.8 123.04,93.3 129.98,91.4 140.38,82.7 147.31,78.8 154.25,74 164.65,71.5 188.92,58.8 213.19,49.6 220.12,46 227.05,45.5 233.99,42.4" fill="none" stroke="#000" stroke-width="0.5"/>
<polyline points="22.5,182 32.9,161.7 43.3,147.4 50.24,141.7 57.17,138.8 67.57,127 74.5,123.4 91.84,119 98.77,108.7 105.71,105 123.04,101 129.98,93.2 140.38,86 147.31,82 154.25,75.8 164.65,71.8 188.92,58.8 213.19,47.9 220.12,43.8 227.05,41.2 233.99,36.8" fill="none" stroke="#000" stroke-width="0.5"/>
<polyline points="22.5,182 32.9,169 43.3,154.7 50.24,147.9 57.17,146.9 67.57,135.5 74.5,132.9 91.84,124.6 98.77,119.3 105.71,117.5 123.04,115.3 129.98,111.6 140.38,106.3 147.31,105.3 154.25,100.6 164.65,94.5 188.92,88.4 213.19,71.9 220.12,70.2 227.05,68.8 233.99,60.7" fill="none" stroke="#000" stroke-width="0.5"/>
<circle cx="22.5" cy="182" r="1.85" fill="#fff" stroke="#222" stroke-width="0.38"/>
<circle cx="32.9" cy="173" r="1.85" fill="#fff" stroke="#222" stroke-width="0.38"/>
<circle cx="43.3" cy="171" r="1.85" fill="#fff" stroke="#222" stroke-width="0.38"/>
<circle cx="50.24" cy="171" r="1.85" fill="#fff" stroke="#222" stroke-width="0.38"/>
<circle cx="57.17" cy="167.5" r="1.85" fill="#fff" stroke="#222" stroke-width="0.38"/>
<circle cx="67.57" cy="151.5" r="1.85" fill="#fff" stroke="#222" stroke-width="0.38"/>
<circle cx="74.5" cy="149" r="1.85" fill="#fff" stroke="#222" stroke-width="0.38"/>
<circle cx="91.84" cy="143.7" r="1.85" fill="#fff" stroke="#222" stroke-width="0.38"/>
<circle cx="98.77" cy="141.4" r="1.85" fill="#fff" stroke="#222" stroke-width="0.38"/>
<circle cx="105.71" cy="139.5" r="1.85" fill="#fff" stroke="#222" stroke-width="0.38"/>
<circle cx="123.04" cy="132.3" r="1.85" fill="#fff" stroke="#222" stroke-width="0.38"/>
<circle cx="129.98" cy="132.3" r="1.85" fill="#fff" stroke="#222" stroke-width="0.38"/>
<circle cx="140.38" cy="124.3" r="1.85" fill="#fff" stroke="#222" stroke-width="0.38"/>
<circle cx="147.31" cy="124.8" r="1.85" fill="#fff" stroke="#222" stroke-width="0.38"/>
<circle cx="154.25" cy="120.5" r="1.85" fill="#fff" stroke="#222" stroke-width="0.38"/>
<circle cx="164.65" cy="117.2" r="1.85" fill="#fff" stroke="#222" stroke-width="0.38"/>
<circle cx="188.92" cy="107.3" r="1.85" fill="#fff" stroke="#222" stroke-width="0.38"/>
<circle cx="213.19" cy="111.7" r="1.85" fill="#fff" stroke="#222" stroke-width="0.38"/>
<circle cx="220.12" cy="105.6" r="1.85" fill="#fff" stroke="#222" stroke-width="0.38"/>
<circle cx="227.05" cy="105.8" r="1.85" fill="#fff" stroke="#222" stroke-width="0.38"/>
<circle cx="233.99" cy="99.6" r="1.85" fill="#fff" stroke="#222" stroke-width="0.38"/>
<circle cx="22.5" cy="182" r="1.85" fill="#000" stroke="#222" stroke-width="0.38"/>
<circle cx="32.9" cy="168.8" r="1.85" fill="#000" stroke="#222" stroke-width="0.38"/>
<circle cx="43.3" cy="161" r="1.85" fill="#000" stroke="#222" stroke-width="0.38"/>
<circle cx="50.24" cy="154.7" r="1.85" fill="#000" stroke="#222" stroke-width="0.38"/>
<circle cx="57.17" cy="152.2" r="1.85" fill="#000" stroke="#222" stroke-width="0.38"/>
<circle cx="67.57" cy="132" r="1.85" fill="#000" stroke="#222" stroke-width="0.38"/>
<circle cx="74.5" cy="126.2" r="1.85" fill="#000" stroke="#222" stroke-width="0.38"/>
<circle cx="91.84" cy="115.2" r="1.85" fill="#000" stroke="#222" stroke-width="0.38"/>
<circle cx="98.77" cy="109.5" r="1.85" fill="#000" stroke="#222" stroke-width="0.38"/>
<circle cx="105.71" cy="102.5" r="1.85" fill="#000" stroke="#222" stroke-width="0.38"/>
<circle cx="123.04" cy="98.6" r="1.85" fill="#000" stroke="#222" stroke-width="0.38"/>
<circle cx="129.98" cy="91.5" r="1.85" fill="#000" stroke="#222" stroke-width="0.38"/>
<circle cx="140.38" cy="84" r="1.85" fill="#000" stroke="#222" stroke-width="0.38"/>
<circle cx="147.31" cy="80" r="1.85" fill="#000" stroke="#222" stroke-width="0.38"/>
<circle cx="154.25" cy="70" r="1.85" fill="#000" stroke="#222" stroke-width="0.38"/>
<circle cx="164.65" cy="62.4" r="1.85" fill="#000" stroke="#222" stroke-width="0.38"/>
<circle cx="188.92" cy="58.8" r="1.85" fill="#000" stroke="#222" stroke-width="0.38"/>
<circle cx="213.19" cy="48.5" r="1.85" fill="#000" stroke="#222" stroke-width="0.38"/>
<circle cx="220.12" cy="45" r="1.85" fill="#000" stroke="#222" stroke-width="0.38"/>
<circle cx="227.05" cy="42" r="1.85" fill="#000" stroke="#222" stroke-width="0.38"/>
<circle cx="233.99" cy="30.9" r="1.85" fill="#000" stroke="#222" stroke-width="0.38"/>
<circle cx="22.5" cy="182" r="1.85" fill="#F5A0A0" stroke="#222" stroke-width="0.38"/>
<circle cx="32.9" cy="169" r="1.85" fill="#F5A0A0" stroke="#222" stroke-width="0.38"/>
<circle cx="43.3" cy="158.5" r="1.85" fill="#F5A0A0" stroke="#222" stroke-width="0.38"/>
<circle cx="50.24" cy="151" r="1.85" fill="#F5A0A0" stroke="#222" stroke-width="0.38"/>
<circle cx="57.17" cy="150" r="1.85" fill="#F5A0A0" stroke="#222" stroke-width="0.38"/>
<circle cx="67.57" cy="133" r="1.85" fill="#F5A0A0" stroke="#222" stroke-width="0.38"/>
<circle cx="74.5" cy="132" r="1.85" fill="#F5A0A0" stroke="#222" stroke-width="0.38"/>
<circle cx="91.84" cy="118" r="1.85" fill="#F5A0A0" stroke="#222" stroke-width="0.38"/>
<circle cx="98.77" cy="106" r="1.85" fill="#F5A0A0" stroke="#222" stroke-width="0.38"/>
<circle cx="105.71" cy="98.8" r="1.85" fill="#F5A0A0" stroke="#222" stroke-width="0.38"/>
<circle cx="123.04" cy="93.3" r="1.85" fill="#F5A0A0" stroke="#222" stroke-width="0.38"/>
<circle cx="129.98" cy="91.4" r="1.85" fill="#F5A0A0" stroke="#222" stroke-width="0.38"/>
<circle cx="140.38" cy="82.7" r="1.85" fill="#F5A0A0" stroke="#222" stroke-width="0.38"/>
<circle cx="147.31" cy="78.8" r="1.85" fill="#F5A0A0" stroke="#222" stroke-width="0.38"/>
<circle cx="154.25" cy="74" r="1.85" fill="#F5A0A0" stroke="#222" stroke-width="0.38"/>
<circle cx="164.65" cy="71.5" r="1.85" fill="#F5A0A0" stroke="#222" stroke-width="0.38"/>
<circle cx="188.92" cy="58.8" r="1.85" fill="#F5A0A0" stroke="#222" stroke-width="0.38"/>
<circle cx="213.19" cy="49.6" r="1.85" fill="#F5A0A0" stroke="#222" stroke-width="0.38"/>
<circle cx="220.12" cy="46" r="1.85" fill="#F5A0A0" stroke="#222" stroke-width="0.38"/>
<circle cx="227.05" cy="45.5" r="1.85" fill="#F5A0A0" stroke="#222" stroke-width="0.38"/>
<circle cx="233.99" cy="42.4" r="1.85" fill="#F5A0A0" stroke="#222" stroke-width="0.38"/>
<circle cx="22.5" cy="182" r="1.85" fill="#F9B772" stroke="#222" stroke-width="0.38"/>
<circle cx="32.9" cy="161.7" r="1.85" fill="#F9B772" stroke="#222" stroke-width="0.38"/>
<circle cx="43.3" cy="147.4" r="1.85" fill="#F9B772" stroke="#222" stroke-width="0.38"/>
<circle cx="50.24" cy="141.7" r="1.85" fill="#F9B772" stroke="#222" stroke-width="0.38"/>
<circle cx="57.17" cy="138.8" r="1.85" fill="#F9B772" stroke="#222" stroke-width="0.38"/>
<circle cx="67.57" cy="127" r="1.85" fill="#F9B772" stroke="#222" stroke-width="0.38"/>
<circle cx="74.5" cy="123.4" r="1.85" fill="#F9B772" stroke="#222" stroke-width="0.38"/>
<circle cx="91.84" cy="119" r="1.85" fill="#F9B772" stroke="#222" stroke-width="0.38"/>
<circle cx="98.77" cy="108.7" r="1.85" fill="#F9B772" stroke="#222" stroke-width="0.38"/>
<circle cx="105.71" cy="105" r="1.85" fill="#F9B772" stroke="#222" stroke-width="0.38"/>
<circle cx="123.04" cy="101" r="1.85" fill="#F9B772" stroke="#222" stroke-width="0.38"/>
<circle cx="129.98" cy="93.2" r="1.85" fill="#F9B772" stroke="#222" stroke-width="0.38"/>
<circle cx="140.38" cy="86" r="1.85" fill="#F9B772" stroke="#222" stroke-width="0.38"/>
<circle cx="147.31" cy="82" r="1.85" fill="#F9B772" stroke="#222" stroke-width="0.38"/>
<circle cx="154.25" cy="75.8" r="1.85" fill="#F9B772" stroke="#222" stroke-width="0.38"/>
<circle cx="164.65" cy="71.8" r="1.85" fill="#F9B772" stroke="#222" stroke-width="0.38"/>
<circle cx="188.92" cy="58.8" r="1.85" fill="#F9B772" stroke="#222" stroke-width="0.38"/>
<circle cx="213.19" cy="47.9" r="1.85" fill="#F9B772" stroke="#222" stroke-width="0.38"/>
<circle cx="220.12" cy="43.8" r="1.85" fill="#F9B772" stroke="#222" stroke-width="0.38"/>
<circle cx="227.05" cy="41.2" r="1.85" fill="#F9B772" stroke="#222" stroke-width="0.38"/>
<circle cx="233.99" cy="36.8" r="1.85" fill="#F9B772" stroke="#222" stroke-width="0.38"/>
<circle cx="22.5" cy="182" r="1.85" fill="#80B0EA" stroke="#222" stroke-width="0.38"/>
<circle cx="32.9" cy="169" r="1.85" fill="#80B0EA" stroke="#222" stroke-width="0.38"/>
<circle cx="43.3" cy="154.7" r="1.85" fill="#80B0EA" stroke="#222" stroke-width="0.38"/>
<circle cx="50.24" cy="147.9" r="1.85" fill="#80B0EA" stroke="#222" stroke-width="0.38"/>
<circle cx="57.17" cy="146.9" r="1.85" fill="#80B0EA" stroke="#222" stroke-width="0.38"/>
<circle cx="67.57" cy="135.5" r="1.85" fill="#80B0EA" stroke="#222" stroke-width="0.38"/>
<circle cx="74.5" cy="132.9" r="1.85" fill="#80B0EA" stroke="#222" stroke-width="0.38"/>
<circle cx="91.84" cy="124.6" r="1.85" fill="#80B0EA" stroke="#222" stroke-width="0.38"/>
<circle cx="98.77" cy="119.3" r="1.85" fill="#80B0EA" stroke="#222" stroke-width="0.38"/>
<circle cx="105.71" cy="117.5" r="1.85" fill="#80B0EA" stroke="#222" stroke-width="0.38"/>
<circle cx="123.04" cy="115.3" r="1.85" fill="#80B0EA" stroke="#222" stroke-width="0.38"/>
<circle cx="129.98" cy="111.6" r="1.85" fill="#80B0EA" stroke="#222" stroke-width="0.38"/>
<circle cx="140.38" cy="106.3" r="1.85" fill="#80B0EA" stroke="#222" stroke-width="0.38"/>
<circle cx="147.31" cy="105.3" r="1.85" fill="#80B0EA" stroke="#222" stroke-width="0.38"/>
<circle cx="154.25" cy="100.6" r="1.85" fill="#80B0EA" stroke="#222" stroke-width="0.38"/>
<circle cx="164.65" cy="94.5" r="1.85" fill="#80B0EA" stroke="#222" stroke-width="0.38"/>
<circle cx="188.92" cy="88.4" r="1.85" fill="#80B0EA" stroke="#222" stroke-width="0.38"/>
<circle cx="213.19" cy="71.9" r="1.85" fill="#80B0EA" stroke="#222" stroke-width="0.38"/>
<circle cx="220.12" cy="70.2" r="1.85" fill="#80B0EA" stroke="#222" stroke-width="0.38"/>
<circle cx="227.05" cy="68.8" r="1.85" fill="#80B0EA" stroke="#222" stroke-width="0.38"/>
<circle cx="233.99" cy="60.7" r="1.85" fill="#80B0EA" stroke="#222" stroke-width="0.38"/>
<line x1="24.2" y1="28.8" x2="31.6" y2="28.8" stroke="#000" stroke-width="0.5" />
<circle cx="27.9" cy="28.8" r="1.85" fill="#fff" stroke="#000" stroke-width="0.45"/>
<text class="t" x="36.6" y="30.6" font-size="5.0" text-anchor="start" fill="#000" font-weight="normal" >NT</text>
<line x1="24.2" y1="37.05" x2="31.6" y2="37.05" stroke="#000" stroke-width="0.5" />
<circle cx="27.9" cy="37.05" r="1.85" fill="#000" stroke="#000" stroke-width="0.45"/>
<text class="t" x="36.6" y="38.85" font-size="5.0" text-anchor="start" fill="#000" font-weight="normal" >HFD-F</text>
<line x1="24.2" y1="45.3" x2="31.6" y2="45.3" stroke="#000" stroke-width="0.5" />
<circle cx="27.9" cy="45.3" r="1.85" fill="#F5A0A0" stroke="#000" stroke-width="0.45"/>
<text class="t" x="36.6" y="47.1" font-size="5.0" text-anchor="start" fill="#000" font-weight="normal" >HFD-F + UDCA 30 mg/kg</text>
<line x1="24.2" y1="53.55" x2="31.6" y2="53.55" stroke="#000" stroke-width="0.5" />
<circle cx="27.9" cy="53.55" r="1.85" fill="#F9B772" stroke="#000" stroke-width="0.45"/>
<text class="t" x="36.6" y="55.35" font-size="5.0" text-anchor="start" fill="#000" font-weight="normal" >HFD-F + BAR502 30 mg/kg</text>
<line x1="24.2" y1="61.8" x2="31.6" y2="61.8" stroke="#000" stroke-width="0.5" />
<circle cx="27.9" cy="61.8" r="1.85" fill="#80B0EA" stroke="#000" stroke-width="0.45"/>
<text class="t" x="36.6" y="63.6" font-size="5.0" text-anchor="start" fill="#000" font-weight="normal" >HFD-F + BAR502 + UDCA</text>
<line x1="305.8" y1="27.78" x2="305.8" y2="187.4" stroke="#666" stroke-width="0.8" />
<line x1="305.8" y1="187.4" x2="504.4" y2="187.4" stroke="#333" stroke-width="0.6" />
<line x1="303.9" y1="187.3" x2="305.8" y2="187.3" stroke="#000" stroke-width="0.6" />
<text class="t" x="302.4" y="189.25" font-size="5.5" text-anchor="end" fill="#000" font-weight="normal" >0</text>
<line x1="303.9" y1="147.42" x2="305.8" y2="147.42" stroke="#000" stroke-width="0.6" />
<text class="t" x="302.4" y="149.37" font-size="5.5" text-anchor="end" fill="#000" font-weight="normal" >100</text>
<line x1="303.9" y1="107.54" x2="305.8" y2="107.54" stroke="#000" stroke-width="0.6" />
<text class="t" x="302.4" y="109.49" font-size="5.5" text-anchor="end" fill="#000" font-weight="normal" >200</text>
<line x1="303.9" y1="67.66" x2="305.8" y2="67.66" stroke="#000" stroke-width="0.6" />
<text class="t" x="302.4" y="69.61" font-size="5.5" text-anchor="end" fill="#000" font-weight="normal" >300</text>
<line x1="303.9" y1="27.78" x2="305.8" y2="27.78" stroke="#000" stroke-width="0.6" />
<text class="t" x="302.4" y="29.73" font-size="5.5" text-anchor="end" fill="#000" font-weight="normal" >400</text>
<line x1="305.8" y1="187.4" x2="305.8" y2="189" stroke="#000" stroke-width="0.6" />
<text class="t" x="305.8" y="195.5" font-size="5.5" text-anchor="middle" fill="#000" font-weight="normal" >0</text>
<line x1="330.59" y1="187.4" x2="330.59" y2="189" stroke="#000" stroke-width="0.6" />
<text class="t" x="330.59" y="195.5" font-size="5.5" text-anchor="middle" fill="#000" font-weight="normal" >15</text>
<line x1="355.38" y1="187.4" x2="355.38" y2="189" stroke="#000" stroke-width="0.6" />
<text class="t" x="355.38" y="195.5" font-size="5.5" text-anchor="middle" fill="#000" font-weight="normal" >30</text>
<line x1="380.16" y1="187.4" x2="380.16" y2="189" stroke="#000" stroke-width="0.6" />
<text class="t" x="380.16" y="195.5" font-size="5.5" text-anchor="middle" fill="#000" font-weight="normal" >45</text>
<line x1="404.95" y1="187.4" x2="404.95" y2="189" stroke="#000" stroke-width="0.6" />
<text class="t" x="404.95" y="195.5" font-size="5.5" text-anchor="middle" fill="#000" font-weight="normal" >60</text>
<line x1="429.74" y1="187.4" x2="429.74" y2="189" stroke="#000" stroke-width="0.6" />
<text class="t" x="429.74" y="195.5" font-size="5.5" text-anchor="middle" fill="#000" font-weight="normal" >75</text>
<line x1="454.52" y1="187.4" x2="454.52" y2="189" stroke="#000" stroke-width="0.6" />
<text class="t" x="454.52" y="195.5" font-size="5.5" text-anchor="middle" fill="#000" font-weight="normal" >90</text>
<line x1="479.31" y1="187.4" x2="479.31" y2="189" stroke="#000" stroke-width="0.6" />
<text class="t" x="479.31" y="195.5" font-size="5.5" text-anchor="middle" fill="#000" font-weight="normal" >105</text>
<line x1="504.1" y1="187.4" x2="504.1" y2="189" stroke="#000" stroke-width="0.6" />
<text class="t" x="504.1" y="195.5" font-size="5.5" text-anchor="middle" fill="#000" font-weight="normal" >120</text>
<text x="405" y="206.9" font-size="5.75" text-anchor="middle" fill="#000" font-weight="normal" style="stroke-width:0.2px">Minutes</text>
<text x="0" y="0" font-size="5.8" text-anchor="middle" fill="#000" font-weight="normal" transform="translate(280.99,107.7) rotate(-90)">Glucose</text>
<text x="0" y="0" font-size="5.8" text-anchor="middle" fill="#000" font-weight="normal" transform="translate(288.99,108.2) rotate(-90)">(mg/dL)</text>
<line x1="305.8" y1="140.8" x2="305.8" y2="144.8" stroke="#333" stroke-width="0.45" />
<line x1="304.9" y1="140.8" x2="306.7" y2="140.8" stroke="#333" stroke-width="0.45" />
<line x1="304.9" y1="144.8" x2="306.7" y2="144.8" stroke="#333" stroke-width="0.45" />
<line x1="330.59" y1="94.3" x2="330.59" y2="110.3" stroke="#333" stroke-width="0.45" />
<line x1="329.69" y1="94.3" x2="331.49" y2="94.3" stroke="#333" stroke-width="0.45" />
<line x1="329.69" y1="110.3" x2="331.49" y2="110.3" stroke="#333" stroke-width="0.45" />
<line x1="355.38" y1="108.2" x2="355.38" y2="122.2" stroke="#333" stroke-width="0.45" />
<line x1="354.48" y1="108.2" x2="356.27" y2="108.2" stroke="#333" stroke-width="0.45" />
<line x1="354.48" y1="122.2" x2="356.27" y2="122.2" stroke="#333" stroke-width="0.45" />
<line x1="404.95" y1="116.2" x2="404.95" y2="130.2" stroke="#333" stroke-width="0.45" />
<line x1="404.05" y1="116.2" x2="405.85" y2="116.2" stroke="#333" stroke-width="0.45" />
<line x1="404.05" y1="130.2" x2="405.85" y2="130.2" stroke="#333" stroke-width="0.45" />
<line x1="454.52" y1="125.7" x2="454.52" y2="137.7" stroke="#333" stroke-width="0.45" />
<line x1="453.62" y1="125.7" x2="455.42" y2="125.7" stroke="#333" stroke-width="0.45" />
<line x1="453.62" y1="137.7" x2="455.42" y2="137.7" stroke="#333" stroke-width="0.45" />
<line x1="504.1" y1="124.7" x2="504.1" y2="134.7" stroke="#333" stroke-width="0.45" />
<line x1="503.2" y1="124.7" x2="505" y2="124.7" stroke="#333" stroke-width="0.45" />
<line x1="503.2" y1="134.7" x2="505" y2="134.7" stroke="#333" stroke-width="0.45" />
<line x1="305.8" y1="128.5" x2="305.8" y2="134.5" stroke="#333" stroke-width="0.45" />
<line x1="304.9" y1="128.5" x2="306.7" y2="128.5" stroke="#333" stroke-width="0.45" />
<line x1="304.9" y1="134.5" x2="306.7" y2="134.5" stroke="#333" stroke-width="0.45" />
<line x1="330.59" y1="42.5" x2="330.59" y2="56.5" stroke="#333" stroke-width="0.45" />
<line x1="329.69" y1="42.5" x2="331.49" y2="42.5" stroke="#333" stroke-width="0.45" />
<line x1="329.69" y1="56.5" x2="331.49" y2="56.5" stroke="#333" stroke-width="0.45" />
<line x1="355.38" y1="77" x2="355.38" y2="95" stroke="#333" stroke-width="0.45" />
<line x1="354.48" y1="77" x2="356.27" y2="77" stroke="#333" stroke-width="0.45" />
<line x1="354.48" y1="95" x2="356.27" y2="95" stroke="#333" stroke-width="0.45" />
<line x1="404.95" y1="95.1" x2="404.95" y2="111.1" stroke="#333" stroke-width="0.45" />
<line x1="404.05" y1="95.1" x2="405.85" y2="95.1" stroke="#333" stroke-width="0.45" />
<line x1="404.05" y1="111.1" x2="405.85" y2="111.1" stroke="#333" stroke-width="0.45" />
<line x1="454.52" y1="106.6" x2="454.52" y2="118.6" stroke="#333" stroke-width="0.45" />
<line x1="453.62" y1="106.6" x2="455.42" y2="106.6" stroke="#333" stroke-width="0.45" />
<line x1="453.62" y1="118.6" x2="455.42" y2="118.6" stroke="#333" stroke-width="0.45" />
<line x1="504.1" y1="116.5" x2="504.1" y2="126.5" stroke="#333" stroke-width="0.45" />
<line x1="503.2" y1="116.5" x2="505" y2="116.5" stroke="#333" stroke-width="0.45" />
<line x1="503.2" y1="126.5" x2="505" y2="126.5" stroke="#333" stroke-width="0.45" />
<line x1="305.8" y1="126.8" x2="305.8" y2="132.8" stroke="#333" stroke-width="0.45" />
<line x1="304.9" y1="126.8" x2="306.7" y2="126.8" stroke="#333" stroke-width="0.45" />
<line x1="304.9" y1="132.8" x2="306.7" y2="132.8" stroke="#333" stroke-width="0.45" />
<line x1="330.59" y1="66.3" x2="330.59" y2="80.3" stroke="#333" stroke-width="0.45" />
<line x1="329.69" y1="66.3" x2="331.49" y2="66.3" stroke="#333" stroke-width="0.45" />
<line x1="329.69" y1="80.3" x2="331.49" y2="80.3" stroke="#333" stroke-width="0.45" />
<line x1="355.38" y1="101.5" x2="355.38" y2="113.5" stroke="#333" stroke-width="0.45" />
<line x1="354.48" y1="101.5" x2="356.27" y2="101.5" stroke="#333" stroke-width="0.45" />
<line x1="354.48" y1="113.5" x2="356.27" y2="113.5" stroke="#333" stroke-width="0.45" />
<line x1="404.95" y1="114.5" x2="404.95" y2="126.5" stroke="#333" stroke-width="0.45" />
<line x1="404.05" y1="114.5" x2="405.85" y2="114.5" stroke="#333" stroke-width="0.45" />
<line x1="404.05" y1="126.5" x2="405.85" y2="126.5" stroke="#333" stroke-width="0.45" />
<line x1="454.52" y1="116.4" x2="454.52" y2="126.4" stroke="#333" stroke-width="0.45" />
<line x1="453.62" y1="116.4" x2="455.42" y2="116.4" stroke="#333" stroke-width="0.45" />
<line x1="453.62" y1="126.4" x2="455.42" y2="126.4" stroke="#333" stroke-width="0.45" />
<line x1="504.1" y1="118.5" x2="504.1" y2="126.5" stroke="#333" stroke-width="0.45" />
<line x1="503.2" y1="118.5" x2="505" y2="118.5" stroke="#333" stroke-width="0.45" />
<line x1="503.2" y1="126.5" x2="505" y2="126.5" stroke="#333" stroke-width="0.45" />
<line x1="305.8" y1="130.8" x2="305.8" y2="136.8" stroke="#333" stroke-width="0.45" />
<line x1="304.9" y1="130.8" x2="306.7" y2="130.8" stroke="#333" stroke-width="0.45" />
<line x1="304.9" y1="136.8" x2="306.7" y2="136.8" stroke="#333" stroke-width="0.45" />
<line x1="330.59" y1="53.7" x2="330.59" y2="67.7" stroke="#333" stroke-width="0.45" />
<line x1="329.69" y1="53.7" x2="331.49" y2="53.7" stroke="#333" stroke-width="0.45" />
<line x1="329.69" y1="67.7" x2="331.49" y2="67.7" stroke="#333" stroke-width="0.45" />
<line x1="355.38" y1="84.7" x2="355.38" y2="98.7" stroke="#333" stroke-width="0.45" />
<line x1="354.48" y1="84.7" x2="356.27" y2="84.7" stroke="#333" stroke-width="0.45" />
<line x1="354.48" y1="98.7" x2="356.27" y2="98.7" stroke="#333" stroke-width="0.45" />
<line x1="404.95" y1="94" x2="404.95" y2="106" stroke="#333" stroke-width="0.45" />
<line x1="404.05" y1="94" x2="405.85" y2="94" stroke="#333" stroke-width="0.45" />
<line x1="404.05" y1="106" x2="405.85" y2="106" stroke="#333" stroke-width="0.45" />
<line x1="454.52" y1="104.3" x2="454.52" y2="116.3" stroke="#333" stroke-width="0.45" />
<line x1="453.62" y1="104.3" x2="455.42" y2="104.3" stroke="#333" stroke-width="0.45" />
<line x1="453.62" y1="116.3" x2="455.42" y2="116.3" stroke="#333" stroke-width="0.45" />
<line x1="504.1" y1="114.4" x2="504.1" y2="124.4" stroke="#333" stroke-width="0.45" />
<line x1="503.2" y1="114.4" x2="505" y2="114.4" stroke="#333" stroke-width="0.45" />
<line x1="503.2" y1="124.4" x2="505" y2="124.4" stroke="#333" stroke-width="0.45" />
<line x1="305.8" y1="118.8" x2="305.8" y2="124.8" stroke="#333" stroke-width="0.45" />
<line x1="304.9" y1="118.8" x2="306.7" y2="118.8" stroke="#333" stroke-width="0.45" />
<line x1="304.9" y1="124.8" x2="306.7" y2="124.8" stroke="#333" stroke-width="0.45" />
<line x1="330.59" y1="65.1" x2="330.59" y2="81.1" stroke="#333" stroke-width="0.45" />
<line x1="329.69" y1="65.1" x2="331.49" y2="65.1" stroke="#333" stroke-width="0.45" />
<line x1="329.69" y1="81.1" x2="331.49" y2="81.1" stroke="#333" stroke-width="0.45" />
<line x1="355.38" y1="93.3" x2="355.38" y2="107.3" stroke="#333" stroke-width="0.45" />
<line x1="354.48" y1="93.3" x2="356.27" y2="93.3" stroke="#333" stroke-width="0.45" />
<line x1="354.48" y1="107.3" x2="356.27" y2="107.3" stroke="#333" stroke-width="0.45" />
<line x1="404.95" y1="106.7" x2="404.95" y2="116.7" stroke="#333" stroke-width="0.45" />
<line x1="404.05" y1="106.7" x2="405.85" y2="106.7" stroke="#333" stroke-width="0.45" />
<line x1="404.05" y1="116.7" x2="405.85" y2="116.7" stroke="#333" stroke-width="0.45" />
<line x1="454.52" y1="111.2" x2="454.52" y2="121.2" stroke="#333" stroke-width="0.45" />
<line x1="453.62" y1="111.2" x2="455.42" y2="111.2" stroke="#333" stroke-width="0.45" />
<line x1="453.62" y1="121.2" x2="455.42" y2="121.2" stroke="#333" stroke-width="0.45" />
<line x1="504.1" y1="120.1" x2="504.1" y2="128.1" stroke="#333" stroke-width="0.45" />
<line x1="503.2" y1="120.1" x2="505" y2="120.1" stroke="#333" stroke-width="0.45" />
<line x1="503.2" y1="128.1" x2="505" y2="128.1" stroke="#333" stroke-width="0.45" />
<polyline points="305.8,142.8 330.59,102.3 355.38,115.2 404.95,123.2 454.52,131.7 504.1,129.7" fill="none" stroke="#000" stroke-width="0.5"/>
<polyline points="305.8,131.5 330.59,49.5 355.38,86 404.95,103.1 454.52,112.6 504.1,121.5" fill="none" stroke="#000" stroke-width="0.5"/>
<polyline points="305.8,129.8 330.59,73.3 355.38,107.5 404.95,120.5 454.52,121.4 504.1,122.5" fill="none" stroke="#000" stroke-width="0.5"/>
<polyline points="305.8,133.8 330.59,60.7 355.38,91.7 404.95,100 454.52,110.3 504.1,119.4" fill="none" stroke="#000" stroke-width="0.5"/>
<polyline points="305.8,121.8 330.59,73.1 355.38,100.3 404.95,111.7 454.52,116.2 504.1,124.1" fill="none" stroke="#000" stroke-width="0.5"/>
<circle cx="305.8" cy="142.8" r="1.8" fill="#fff" stroke="#000" stroke-width="0.45"/>
<circle cx="330.59" cy="102.3" r="1.8" fill="#fff" stroke="#000" stroke-width="0.45"/>
<circle cx="355.38" cy="115.2" r="1.8" fill="#fff" stroke="#000" stroke-width="0.45"/>
<circle cx="404.95" cy="123.2" r="1.8" fill="#fff" stroke="#000" stroke-width="0.45"/>
<circle cx="454.52" cy="131.7" r="1.8" fill="#fff" stroke="#000" stroke-width="0.45"/>
<circle cx="504.1" cy="129.7" r="1.8" fill="#fff" stroke="#000" stroke-width="0.45"/>
<circle cx="305.8" cy="131.5" r="1.8" fill="#000" stroke="#000" stroke-width="0.45"/>
<circle cx="330.59" cy="49.5" r="1.8" fill="#000" stroke="#000" stroke-width="0.45"/>
<circle cx="355.38" cy="86" r="1.8" fill="#000" stroke="#000" stroke-width="0.45"/>
<circle cx="404.95" cy="103.1" r="1.8" fill="#000" stroke="#000" stroke-width="0.45"/>
<circle cx="454.52" cy="112.6" r="1.8" fill="#000" stroke="#000" stroke-width="0.45"/>
<circle cx="504.1" cy="121.5" r="1.8" fill="#000" stroke="#000" stroke-width="0.45"/>
<circle cx="305.8" cy="129.8" r="1.8" fill="#F5A0A0" stroke="#000" stroke-width="0.45"/>
<circle cx="330.59" cy="73.3" r="1.8" fill="#F5A0A0" stroke="#000" stroke-width="0.45"/>
<circle cx="355.38" cy="107.5" r="1.8" fill="#F5A0A0" stroke="#000" stroke-width="0.45"/>
<circle cx="404.95" cy="120.5" r="1.8" fill="#F5A0A0" stroke="#000" stroke-width="0.45"/>
<circle cx="454.52" cy="121.4" r="1.8" fill="#F5A0A0" stroke="#000" stroke-width="0.45"/>
<circle cx="504.1" cy="122.5" r="1.8" fill="#F5A0A0" stroke="#000" stroke-width="0.45"/>
<circle cx="305.8" cy="133.8" r="1.8" fill="#F9B772" stroke="#000" stroke-width="0.45"/>
<circle cx="330.59" cy="60.7" r="1.8" fill="#F9B772" stroke="#000" stroke-width="0.45"/>
<circle cx="355.38" cy="91.7" r="1.8" fill="#F9B772" stroke="#000" stroke-width="0.45"/>
<circle cx="404.95" cy="100" r="1.8" fill="#F9B772" stroke="#000" stroke-width="0.45"/>
<circle cx="454.52" cy="110.3" r="1.8" fill="#F9B772" stroke="#000" stroke-width="0.45"/>
<circle cx="504.1" cy="119.4" r="1.8" fill="#F9B772" stroke="#000" stroke-width="0.45"/>
<circle cx="305.8" cy="121.8" r="1.8" fill="#80B0EA" stroke="#000" stroke-width="0.45"/>
<circle cx="330.59" cy="73.1" r="1.8" fill="#80B0EA" stroke="#000" stroke-width="0.45"/>
<circle cx="355.38" cy="100.3" r="1.8" fill="#80B0EA" stroke="#000" stroke-width="0.45"/>
<circle cx="404.95" cy="111.7" r="1.8" fill="#80B0EA" stroke="#000" stroke-width="0.45"/>
<circle cx="454.52" cy="116.2" r="1.8" fill="#80B0EA" stroke="#000" stroke-width="0.45"/>
<circle cx="504.1" cy="124.1" r="1.8" fill="#80B0EA" stroke="#000" stroke-width="0.45"/>
<line x1="313.3" y1="148.4" x2="320.7" y2="148.4" stroke="#000" stroke-width="0.5" />
<circle cx="317" cy="148.4" r="1.8" fill="#fff" stroke="#000" stroke-width="0.45"/>
<text class="t" x="326" y="150.6" font-size="5.4" text-anchor="start" fill="#000" font-weight="normal" >NT</text>
<line x1="313.3" y1="156.85" x2="320.7" y2="156.85" stroke="#000" stroke-width="0.5" />
<circle cx="317" cy="156.85" r="1.8" fill="#000" stroke="#000" stroke-width="0.45"/>
<text class="t" x="326" y="159.05" font-size="5.4" text-anchor="start" fill="#000" font-weight="normal" >HFD-F</text>
<line x1="313.3" y1="165.3" x2="320.7" y2="165.3" stroke="#000" stroke-width="0.5" />
<circle cx="317" cy="165.3" r="1.8" fill="#F5A0A0" stroke="#000" stroke-width="0.45"/>
<text class="t" x="326" y="167.5" font-size="5.4" text-anchor="start" fill="#000" font-weight="normal" >HFD-F + UDCA 30 mg/kg</text>
<line x1="313.3" y1="173.75" x2="320.7" y2="173.75" stroke="#000" stroke-width="0.5" />
<circle cx="317" cy="173.75" r="1.8" fill="#F9B772" stroke="#000" stroke-width="0.45"/>
<text class="t" x="326" y="175.95" font-size="5.4" text-anchor="start" fill="#000" font-weight="normal" >HFD-F + BAR502 30 mg/kg</text>
<line x1="313.3" y1="182.2" x2="320.7" y2="182.2" stroke="#000" stroke-width="0.5" />
<circle cx="317" cy="182.2" r="1.8" fill="#80B0EA" stroke="#000" stroke-width="0.45"/>
<text class="t" x="326" y="184.4" font-size="5.4" text-anchor="start" fill="#000" font-weight="normal" >HFD-F + BAR502 + UDCA</text>
<line x1="458" y1="9.35" x2="458" y2="88.1" stroke="#000" stroke-width="0.6" />
<line x1="458" y1="88.1" x2="533" y2="88.1" stroke="#000" stroke-width="0.6" />
<line x1="456" y1="88.1" x2="458" y2="88.1" stroke="#000" stroke-width="0.6" />
<text class="t" x="455.4" y="90.2" font-size="6.0" text-anchor="end" fill="#000" font-weight="normal" >0</text>
<line x1="456" y1="61.85" x2="458" y2="61.85" stroke="#000" stroke-width="0.6" />
<text class="t" x="455.4" y="63.95" font-size="6.0" text-anchor="end" fill="#000" font-weight="normal" >10000</text>
<line x1="456" y1="35.6" x2="458" y2="35.6" stroke="#000" stroke-width="0.6" />
<text class="t" x="455.4" y="37.7" font-size="6.0" text-anchor="end" fill="#000" font-weight="normal" >20000</text>
<line x1="456" y1="9.35" x2="458" y2="9.35" stroke="#000" stroke-width="0.6" />
<text class="t" x="455.4" y="11.45" font-size="6.0" text-anchor="end" fill="#000" font-weight="normal" >30000</text>
<text x="0" y="0" font-size="6.9" text-anchor="middle" fill="#000" font-weight="normal" transform="translate(437.48,47.6) rotate(-90)">AUC of OGTT</text>
<line x1="466.2" y1="32.2" x2="466.2" y2="37.17" stroke="#333" stroke-width="0.8" />
<line x1="464.6" y1="32.2" x2="467.8" y2="32.2" stroke="#333" stroke-width="0.8" />
<rect x="461.4" y="37.17" width="9.6" height="50.93" fill="#fff" stroke="#333" stroke-width="0.6"/>
<line x1="481" y1="15" x2="481" y2="18.8" stroke="#333" stroke-width="0.8" />
<line x1="479.4" y1="15" x2="482.6" y2="15" stroke="#333" stroke-width="0.8" />
<rect x="475.9" y="18.8" width="9.9" height="69.3" fill="#000" stroke="none" stroke-width="0.6"/>
<line x1="496.1" y1="26.9" x2="496.1" y2="29.82" stroke="#FB9A9C" stroke-width="0.8" />
<line x1="494.5" y1="26.9" x2="497.7" y2="26.9" stroke="#FB9A9C" stroke-width="0.8" />
<rect x="491" y="29.82" width="9.9" height="58.28" fill="#FB9A9C" stroke="none" stroke-width="0.6"/>
<line x1="510.8" y1="19.1" x2="510.8" y2="21.95" stroke="#FCB877" stroke-width="0.8" />
<line x1="509.2" y1="19.1" x2="512.4" y2="19.1" stroke="#FCB877" stroke-width="0.8" />
<rect x="505.7" y="21.95" width="9.9" height="66.15" fill="#FCB877" stroke="none" stroke-width="0.6"/>
<line x1="525.5" y1="24.1" x2="525.5" y2="25.89" stroke="#7FA2D3" stroke-width="0.8" />
<line x1="523.9" y1="24.1" x2="527.1" y2="24.1" stroke="#7FA2D3" stroke-width="0.8" />
<rect x="520.4" y="25.89" width="9.9" height="62.21" fill="#7FA2D3" stroke="none" stroke-width="0.6"/>
<line x1="464.3" y1="11.6" x2="480.9" y2="11.6" stroke="#444" stroke-width="0.65" />
<line x1="464.3" y1="10.1" x2="464.3" y2="13.1" stroke="#444" stroke-width="0.65" />
<line x1="480.9" y1="10.1" x2="480.9" y2="13.1" stroke="#444" stroke-width="0.65" />
<text x="472.3" y="12.03" font-size="6.5" text-anchor="middle" fill="#000" font-weight="normal" style="stroke-width:0.3px">*</text>
<line x1="480.9" y1="11.6" x2="497.5" y2="11.6" stroke="#444" stroke-width="0.65" />
<line x1="480.9" y1="10.1" x2="480.9" y2="13.1" stroke="#444" stroke-width="0.65" />
<line x1="497.5" y1="10.1" x2="497.5" y2="13.1" stroke="#444" stroke-width="0.65" />
<text x="489.7" y="12.03" font-size="6.5" text-anchor="middle" fill="#000" font-weight="normal" style="stroke-width:0.3px">*</text>
<line x1="481.4" y1="4.8" x2="525.6" y2="4.8" stroke="#444" stroke-width="0.65" />
<line x1="481.4" y1="3.3" x2="481.4" y2="6.3" stroke="#444" stroke-width="0.65" />
<line x1="525.6" y1="3.3" x2="525.6" y2="6.3" stroke="#444" stroke-width="0.65" />
<text x="502.8" y="5.23" font-size="6.5" text-anchor="middle" fill="#000" font-weight="normal" style="stroke-width:0.3px">*</text>
<rect x="536.3" y="13.2" width="8.6" height="3.8" fill="#fff" stroke="#000" stroke-width="0.5"/>
<text class="t2" x="550.3" y="17.5" font-size="6.8" text-anchor="start" fill="#000" font-weight="normal" >NT</text>
<rect x="536" y="22.52" width="9.1" height="4" fill="#000" stroke="none" stroke-width="0.6"/>
<text class="t2" x="550.3" y="26.92" font-size="6.8" text-anchor="start" fill="#000" font-weight="normal" >HFD-F</text>
<rect x="536" y="31.94" width="9.1" height="4" fill="#FB9A9C" stroke="none" stroke-width="0.6"/>
<text class="t2" x="550.3" y="36.34" font-size="6.8" text-anchor="start" fill="#000" font-weight="normal" >HFD-F + UDCA 30 mg/kg</text>
<rect x="536" y="41.36" width="9.1" height="4" fill="#FCB877" stroke="none" stroke-width="0.6"/>
<text class="t2" x="550.3" y="45.76" font-size="6.8" text-anchor="start" fill="#000" font-weight="normal" >HFD-F + BAR502 30 mg/kg</text>
<rect x="536" y="50.78" width="9.1" height="4" fill="#7FA2D3" stroke="none" stroke-width="0.6"/>
<text class="t2" x="550.3" y="55.18" font-size="6.8" text-anchor="start" fill="#000" font-weight="normal" >HFD-F + BAR502 + UDCA</text>
<line x1="26.4" y1="265.5" x2="26.4" y2="344.3" stroke="#000" stroke-width="0.6" />
<line x1="26.4" y1="344.3" x2="106.3" y2="344.3" stroke="#000" stroke-width="0.6" />
<line x1="24.6" y1="344.3" x2="26.4" y2="344.3" stroke="#000" stroke-width="0.6" />
<text class="t" x="23.8" y="346" font-size="5.7" text-anchor="end" fill="#000" font-weight="normal" >0</text>
<line x1="24.6" y1="328.54" x2="26.4" y2="328.54" stroke="#000" stroke-width="0.6" />
<text class="t" x="23.8" y="330.24" font-size="5.7" text-anchor="end" fill="#000" font-weight="normal" >100</text>
<line x1="24.6" y1="312.78" x2="26.4" y2="312.78" stroke="#000" stroke-width="0.6" />
<text class="t" x="23.8" y="314.48" font-size="5.7" text-anchor="end" fill="#000" font-weight="normal" >200</text>
<line x1="24.6" y1="297.02" x2="26.4" y2="297.02" stroke="#000" stroke-width="0.6" />
<text class="t" x="23.8" y="298.72" font-size="5.7" text-anchor="end" fill="#000" font-weight="normal" >300</text>
<line x1="24.6" y1="281.26" x2="26.4" y2="281.26" stroke="#000" stroke-width="0.6" />
<text class="t" x="23.8" y="282.96" font-size="5.7" text-anchor="end" fill="#000" font-weight="normal" >400</text>
<line x1="24.6" y1="265.5" x2="26.4" y2="265.5" stroke="#000" stroke-width="0.6" />
<text class="t" x="23.8" y="267.2" font-size="5.7" text-anchor="end" fill="#000" font-weight="normal" >500</text>
<text x="0" y="0" font-size="6.9" text-anchor="middle" fill="#000" font-weight="normal" transform="translate(9.38,305.2) rotate(-90)">AST (U/L)</text>
<line x1="34.65" y1="314.04" x2="34.65" y2="319.08" stroke="#000" stroke-width="0.6" />
<line x1="33.05" y1="314.04" x2="36.25" y2="314.04" stroke="#000" stroke-width="0.6" />
<rect x="29.9" y="319.08" width="9.6" height="25.22" fill="#fff" stroke="#333" stroke-width="0.6"/>
<line x1="50.05" y1="276.85" x2="50.05" y2="289.77" stroke="#000" stroke-width="0.7" />
<line x1="48.45" y1="276.85" x2="51.65" y2="276.85" stroke="#000" stroke-width="0.7" />
<rect x="45" y="289.77" width="10.1" height="54.53" fill="#000" stroke="none" stroke-width="0.6"/>
<line x1="65.85" y1="306.95" x2="65.85" y2="311.36" stroke="#FB9A9C" stroke-width="0.55" />
<line x1="64.25" y1="306.95" x2="67.45" y2="306.95" stroke="#FB9A9C" stroke-width="0.6" />
<rect x="60.8" y="311.36" width="10.1" height="32.94" fill="#FB9A9C" stroke="none" stroke-width="0.6"/>
<line x1="81.55" y1="303.01" x2="81.55" y2="309.63" stroke="#FCB877" stroke-width="0.55" />
<line x1="79.95" y1="303.01" x2="83.15" y2="303.01" stroke="#FCB877" stroke-width="0.6" />
<rect x="76.5" y="309.63" width="10.1" height="34.67" fill="#FCB877" stroke="none" stroke-width="0.6"/>
<line x1="97.15" y1="306.95" x2="97.15" y2="312.31" stroke="#7FA2D3" stroke-width="0.55" />
<line x1="95.55" y1="306.95" x2="98.75" y2="306.95" stroke="#7FA2D3" stroke-width="0.6" />
<rect x="92.1" y="312.31" width="10.1" height="31.99" fill="#7FA2D3" stroke="none" stroke-width="0.6"/>
<line x1="31.3" y1="273.3" x2="49.5" y2="273.3" stroke="#444" stroke-width="0.65" />
<line x1="31.3" y1="271.5" x2="31.3" y2="275.1" stroke="#444" stroke-width="0.65" />
<line x1="49.5" y1="271.5" x2="49.5" y2="275.1" stroke="#444" stroke-width="0.65" />
<text x="40.3" y="274.43" font-size="6.5" text-anchor="middle" fill="#000" font-weight="normal" style="stroke-width:0.3px">*</text>
<line x1="134.4" y1="265.4" x2="134.4" y2="344.2" stroke="#000" stroke-width="0.6" />
<line x1="134.4" y1="344.2" x2="213.5" y2="344.2" stroke="#000" stroke-width="0.6" />
<line x1="132.6" y1="344.2" x2="134.4" y2="344.2" stroke="#000" stroke-width="0.6" />
<text class="t" x="131.8" y="345.9" font-size="5.7" text-anchor="end" fill="#000" font-weight="normal" >0</text>
<line x1="132.6" y1="324.5" x2="134.4" y2="324.5" stroke="#000" stroke-width="0.6" />
<text class="t" x="131.8" y="326.2" font-size="5.7" text-anchor="end" fill="#000" font-weight="normal" >200</text>
<line x1="132.6" y1="304.8" x2="134.4" y2="304.8" stroke="#000" stroke-width="0.6" />
<text class="t" x="131.8" y="306.5" font-size="5.7" text-anchor="end" fill="#000" font-weight="normal" >400</text>
<line x1="132.6" y1="285.1" x2="134.4" y2="285.1" stroke="#000" stroke-width="0.6" />
<text class="t" x="131.8" y="286.8" font-size="5.7" text-anchor="end" fill="#000" font-weight="normal" >600</text>
<line x1="132.6" y1="265.4" x2="134.4" y2="265.4" stroke="#000" stroke-width="0.6" />
<text class="t" x="131.8" y="267.1" font-size="5.7" text-anchor="end" fill="#000" font-weight="normal" >800</text>
<text x="0" y="0" font-size="7.0" text-anchor="middle" fill="#000" font-weight="normal" transform="translate(117.12,305.7) rotate(-90)">ALT (U/L)</text>
<line x1="142.35" y1="339.27" x2="142.35" y2="339.77" stroke="#000" stroke-width="0.6" />
<line x1="140.75" y1="339.27" x2="143.95" y2="339.27" stroke="#000" stroke-width="0.6" />
<rect x="137.6" y="339.77" width="9.6" height="4.43" fill="#fff" stroke="#333" stroke-width="0.6"/>
<line x1="157.85" y1="282.14" x2="157.85" y2="298.4" stroke="#000" stroke-width="0.7" />
<line x1="156.25" y1="282.14" x2="159.45" y2="282.14" stroke="#000" stroke-width="0.7" />
<rect x="152.8" y="298.4" width="10.1" height="45.8" fill="#000" stroke="none" stroke-width="0.6"/>
<line x1="173.55" y1="312.19" x2="173.55" y2="317.41" stroke="#FB9A9C" stroke-width="0.55" />
<line x1="171.95" y1="312.19" x2="175.15" y2="312.19" stroke="#FB9A9C" stroke-width="0.6" />
<rect x="168.5" y="317.41" width="10.1" height="26.79" fill="#FB9A9C" stroke="none" stroke-width="0.6"/>
<line x1="189.15" y1="316.62" x2="189.15" y2="321.35" stroke="#FCB877" stroke-width="0.55" />
<line x1="187.55" y1="316.62" x2="190.75" y2="316.62" stroke="#FCB877" stroke-width="0.6" />
<rect x="184.1" y="321.35" width="10.1" height="22.85" fill="#FCB877" stroke="none" stroke-width="0.6"/>
<line x1="204.65" y1="322.04" x2="204.65" y2="326.67" stroke="#7FA2D3" stroke-width="0.55" />
<line x1="203.05" y1="322.04" x2="206.25" y2="322.04" stroke="#7FA2D3" stroke-width="0.6" />
<rect x="199.6" y="326.67" width="10.1" height="17.53" fill="#7FA2D3" stroke="none" stroke-width="0.6"/>
<line x1="142.4" y1="277.3" x2="158.3" y2="277.3" stroke="#444" stroke-width="0.65" />
<line x1="142.4" y1="275.5" x2="142.4" y2="279.1" stroke="#444" stroke-width="0.65" />
<line x1="158.3" y1="275.5" x2="158.3" y2="279.1" stroke="#444" stroke-width="0.65" />
<text x="150.3" y="278.23" font-size="6.5" text-anchor="middle" fill="#000" font-weight="normal" style="stroke-width:0.3px">*</text>
<line x1="158.3" y1="273.4" x2="206.2" y2="273.4" stroke="#444" stroke-width="0.65" />
<line x1="158.3" y1="271.6" x2="158.3" y2="275.2" stroke="#444" stroke-width="0.65" />
<line x1="206.2" y1="271.6" x2="206.2" y2="275.2" stroke="#444" stroke-width="0.65" />
<text x="181.9" y="273.73" font-size="6.5" text-anchor="middle" fill="#000" font-weight="normal" style="stroke-width:0.3px">*</text>
<line x1="251.5" y1="265.7" x2="251.5" y2="345.1" stroke="#000" stroke-width="0.6" />
<line x1="251.5" y1="345.1" x2="329.5" y2="345.1" stroke="#000" stroke-width="0.6" />
<line x1="249.7" y1="345.1" x2="251.5" y2="345.1" stroke="#000" stroke-width="0.6" />
<text class="t" x="248.9" y="346.8" font-size="5.7" text-anchor="end" fill="#000" font-weight="normal" >0</text>
<line x1="249.7" y1="325.25" x2="251.5" y2="325.25" stroke="#000" stroke-width="0.6" />
<text class="t" x="248.9" y="326.95" font-size="5.7" text-anchor="end" fill="#000" font-weight="normal" >100</text>
<line x1="249.7" y1="305.4" x2="251.5" y2="305.4" stroke="#000" stroke-width="0.6" />
<text class="t" x="248.9" y="307.1" font-size="5.7" text-anchor="end" fill="#000" font-weight="normal" >200</text>
<line x1="249.7" y1="285.55" x2="251.5" y2="285.55" stroke="#000" stroke-width="0.6" />
<text class="t" x="248.9" y="287.25" font-size="5.7" text-anchor="end" fill="#000" font-weight="normal" >300</text>
<line x1="249.7" y1="265.7" x2="251.5" y2="265.7" stroke="#000" stroke-width="0.6" />
<text class="t" x="248.9" y="267.4" font-size="5.7" text-anchor="end" fill="#000" font-weight="normal" >400</text>
<text x="0" y="0" font-size="7.05" text-anchor="middle" fill="#000" font-weight="normal" transform="translate(233.94,304.5) rotate(-90)">Colesterol (mg/100 ml)</text>
<line x1="259.35" y1="308.18" x2="259.35" y2="312.15" stroke="#000" stroke-width="0.6" />
<line x1="257.75" y1="308.18" x2="260.95" y2="308.18" stroke="#000" stroke-width="0.6" />
<rect x="254.6" y="312.15" width="9.6" height="32.95" fill="#fff" stroke="#333" stroke-width="0.6"/>
<line x1="274.85" y1="278.4" x2="274.85" y2="281.38" stroke="#000" stroke-width="0.7" />
<line x1="273.25" y1="278.4" x2="276.45" y2="278.4" stroke="#000" stroke-width="0.7" />
<rect x="269.8" y="281.38" width="10.1" height="63.72" fill="#000" stroke="none" stroke-width="0.6"/>
<line x1="290.35" y1="269.67" x2="290.35" y2="279.4" stroke="#FB9A9C" stroke-width="0.55" />
<line x1="288.75" y1="269.67" x2="291.95" y2="269.67" stroke="#FB9A9C" stroke-width="0.6" />
<rect x="285.3" y="279.4" width="10.1" height="65.7" fill="#FB9A9C" stroke="none" stroke-width="0.6"/>
<line x1="305.95" y1="279" x2="305.95" y2="284.16" stroke="#FCB877" stroke-width="0.55" />
<line x1="304.35" y1="279" x2="307.55" y2="279" stroke="#FCB877" stroke-width="0.6" />
<rect x="300.9" y="284.16" width="10.1" height="60.94" fill="#FCB877" stroke="none" stroke-width="0.6"/>
<line x1="321.45" y1="294.68" x2="321.45" y2="297.46" stroke="#7FA2D3" stroke-width="0.55" />
<line x1="319.85" y1="294.68" x2="323.05" y2="294.68" stroke="#7FA2D3" stroke-width="0.6" />
<rect x="316.4" y="297.46" width="10.1" height="47.64" fill="#7FA2D3" stroke="none" stroke-width="0.6"/>
<line x1="258.2" y1="269.4" x2="273.3" y2="269.4" stroke="#444" stroke-width="0.65" />
<line x1="258.2" y1="267.6" x2="258.2" y2="271.2" stroke="#444" stroke-width="0.65" />
<line x1="273.3" y1="267.6" x2="273.3" y2="271.2" stroke="#444" stroke-width="0.65" />
<text x="266.1" y="268.73" font-size="6.5" text-anchor="middle" fill="#000" font-weight="normal" style="stroke-width:0.3px">*</text>
<line x1="275.3" y1="269.4" x2="321.4" y2="269.4" stroke="#444" stroke-width="0.65" />
<line x1="275.3" y1="267.6" x2="275.3" y2="271.2" stroke="#444" stroke-width="0.65" />
<line x1="321.4" y1="267.6" x2="321.4" y2="271.2" stroke="#444" stroke-width="0.65" />
<text x="298.1" y="268.73" font-size="6.5" text-anchor="middle" fill="#000" font-weight="normal" style="stroke-width:0.3px">*</text>
<line x1="367.4" y1="266" x2="367.4" y2="345" stroke="#000" stroke-width="0.6" />
<line x1="367.4" y1="345" x2="446" y2="345" stroke="#000" stroke-width="0.6" />
<line x1="365.6" y1="345" x2="367.4" y2="345" stroke="#000" stroke-width="0.6" />
<text class="t" x="364.8" y="346.7" font-size="5.7" text-anchor="end" fill="#000" font-weight="normal" >0</text>
<line x1="365.6" y1="329.2" x2="367.4" y2="329.2" stroke="#000" stroke-width="0.6" />
<text class="t" x="364.8" y="330.9" font-size="5.7" text-anchor="end" fill="#000" font-weight="normal" >50</text>
<line x1="365.6" y1="313.4" x2="367.4" y2="313.4" stroke="#000" stroke-width="0.6" />
<text class="t" x="364.8" y="315.1" font-size="5.7" text-anchor="end" fill="#000" font-weight="normal" >100</text>
<line x1="365.6" y1="297.6" x2="367.4" y2="297.6" stroke="#000" stroke-width="0.6" />
<text class="t" x="364.8" y="299.3" font-size="5.7" text-anchor="end" fill="#000" font-weight="normal" >150</text>
<line x1="365.6" y1="281.8" x2="367.4" y2="281.8" stroke="#000" stroke-width="0.6" />
<text class="t" x="364.8" y="283.5" font-size="5.7" text-anchor="end" fill="#000" font-weight="normal" >200</text>
<line x1="365.6" y1="266" x2="367.4" y2="266" stroke="#000" stroke-width="0.6" />
<text class="t" x="364.8" y="267.7" font-size="5.7" text-anchor="end" fill="#000" font-weight="normal" >250</text>
<text x="0" y="0" font-size="7.05" text-anchor="middle" fill="#000" font-weight="normal" transform="translate(349.94,304.5) rotate(-90)">Tryglicerydes (mg/100 ml)</text>
<line x1="375.45" y1="287.8" x2="375.45" y2="293.81" stroke="#000" stroke-width="0.6" />
<line x1="373.85" y1="287.8" x2="377.05" y2="287.8" stroke="#000" stroke-width="0.6" />
<rect x="370.7" y="293.81" width="9.6" height="51.19" fill="#fff" stroke="#333" stroke-width="0.6"/>
<line x1="390.95" y1="274.53" x2="390.95" y2="281.17" stroke="#000" stroke-width="0.7" />
<line x1="389.35" y1="274.53" x2="392.55" y2="274.53" stroke="#000" stroke-width="0.7" />
<rect x="385.9" y="281.17" width="10.1" height="63.83" fill="#000" stroke="none" stroke-width="0.6"/>
<line x1="406.55" y1="281.8" x2="406.55" y2="287.49" stroke="#FB9A9C" stroke-width="0.55" />
<line x1="404.95" y1="281.8" x2="408.15" y2="281.8" stroke="#FB9A9C" stroke-width="0.6" />
<rect x="401.5" y="287.49" width="10.1" height="57.51" fill="#FB9A9C" stroke="none" stroke-width="0.6"/>
<line x1="422.65" y1="285.91" x2="422.65" y2="293.18" stroke="#FCB877" stroke-width="0.55" />
<line x1="421.05" y1="285.91" x2="424.25" y2="285.91" stroke="#FCB877" stroke-width="0.6" />
<rect x="417.6" y="293.18" width="10.1" height="51.82" fill="#FCB877" stroke="none" stroke-width="0.6"/>
<line x1="438.05" y1="294.76" x2="438.05" y2="299.18" stroke="#7FA2D3" stroke-width="0.55" />
<line x1="436.45" y1="294.76" x2="439.65" y2="294.76" stroke="#7FA2D3" stroke-width="0.6" />
<rect x="433" y="299.18" width="10.1" height="45.82" fill="#7FA2D3" stroke="none" stroke-width="0.6"/>
<line x1="390.2" y1="271.2" x2="438.6" y2="271.2" stroke="#444" stroke-width="0.65" />
<line x1="390.2" y1="269.4" x2="390.2" y2="273" stroke="#444" stroke-width="0.65" />
<line x1="438.6" y1="269.4" x2="438.6" y2="273" stroke="#444" stroke-width="0.65" />
<text x="414.3" y="271.13" font-size="6.5" text-anchor="middle" fill="#000" font-weight="normal" style="stroke-width:0.3px">*</text>
<line x1="477.5" y1="266.6" x2="477.5" y2="344.6" stroke="#000" stroke-width="0.6" />
<line x1="477.5" y1="344.6" x2="557" y2="344.6" stroke="#000" stroke-width="0.6" />
<line x1="475.7" y1="344.6" x2="477.5" y2="344.6" stroke="#000" stroke-width="0.6" />
<text class="t" x="474.9" y="346.3" font-size="5.7" text-anchor="end" fill="#000" font-weight="normal" >0</text>
<line x1="475.7" y1="318.6" x2="477.5" y2="318.6" stroke="#000" stroke-width="0.6" />
<text class="t" x="474.9" y="320.3" font-size="5.7" text-anchor="end" fill="#000" font-weight="normal" >100</text>
<line x1="475.7" y1="292.6" x2="477.5" y2="292.6" stroke="#000" stroke-width="0.6" />
<text class="t" x="474.9" y="294.3" font-size="5.7" text-anchor="end" fill="#000" font-weight="normal" >200</text>
<line x1="475.7" y1="266.6" x2="477.5" y2="266.6" stroke="#000" stroke-width="0.6" />
<text class="t" x="474.9" y="268.3" font-size="5.7" text-anchor="end" fill="#000" font-weight="normal" >300</text>
<text x="0" y="0" font-size="6.6" text-anchor="middle" fill="#000" font-weight="normal" transform="translate(460.18,306) rotate(-90)">HDL (mg/100 ml)</text>
<line x1="485.45" y1="308.85" x2="485.45" y2="312.88" stroke="#000" stroke-width="0.6" />
<line x1="483.85" y1="308.85" x2="487.05" y2="308.85" stroke="#000" stroke-width="0.6" />
<rect x="480.7" y="312.88" width="9.6" height="31.72" fill="#fff" stroke="#333" stroke-width="0.6"/>
<line x1="500.85" y1="280.38" x2="500.85" y2="281.81" stroke="#000" stroke-width="0.7" />
<line x1="499.25" y1="280.38" x2="502.45" y2="280.38" stroke="#000" stroke-width="0.7" />
<rect x="495.8" y="281.81" width="10.1" height="62.79" fill="#000" stroke="none" stroke-width="0.6"/>
<line x1="516.15" y1="273.41" x2="516.15" y2="282.07" stroke="#FB9A9C" stroke-width="0.55" />
<line x1="514.55" y1="273.41" x2="517.75" y2="273.41" stroke="#FB9A9C" stroke-width="0.6" />
<rect x="511.1" y="282.07" width="10.1" height="62.53" fill="#FB9A9C" stroke="none" stroke-width="0.6"/>
<line x1="532.25" y1="279.39" x2="532.25" y2="283.63" stroke="#FCB877" stroke-width="0.55" />
<line x1="530.65" y1="279.39" x2="533.85" y2="279.39" stroke="#FCB877" stroke-width="0.6" />
<rect x="527.2" y="283.63" width="10.1" height="60.97" fill="#FCB877" stroke="none" stroke-width="0.6"/>
<line x1="547.75" y1="295.2" x2="547.75" y2="301.18" stroke="#7FA2D3" stroke-width="0.55" />
<line x1="546.15" y1="295.2" x2="549.35" y2="295.2" stroke="#7FA2D3" stroke-width="0.6" />
<rect x="542.7" y="301.18" width="10.1" height="43.42" fill="#7FA2D3" stroke="none" stroke-width="0.6"/>
<line x1="484.6" y1="269.4" x2="500.7" y2="269.4" stroke="#444" stroke-width="0.65" />
<line x1="484.6" y1="267.6" x2="484.6" y2="271.2" stroke="#444" stroke-width="0.65" />
<line x1="500.7" y1="267.6" x2="500.7" y2="271.2" stroke="#444" stroke-width="0.65" />
<text x="492.7" y="269.13" font-size="6.5" text-anchor="middle" fill="#000" font-weight="normal" style="stroke-width:0.3px">*</text>
<line x1="500.7" y1="269.4" x2="547.4" y2="269.4" stroke="#444" stroke-width="0.65" />
<line x1="500.7" y1="267.6" x2="500.7" y2="271.2" stroke="#444" stroke-width="0.65" />
<line x1="547.4" y1="267.6" x2="547.4" y2="271.2" stroke="#444" stroke-width="0.65" />
<text x="524.4" y="269.13" font-size="6.5" text-anchor="middle" fill="#000" font-weight="normal" style="stroke-width:0.3px">*</text>
<line x1="589.6" y1="267.06" x2="589.6" y2="345.3" stroke="#000" stroke-width="0.6" />
<line x1="589.6" y1="345.3" x2="669" y2="345.3" stroke="#000" stroke-width="0.6" />
<line x1="587.8" y1="345.3" x2="589.6" y2="345.3" stroke="#000" stroke-width="0.6" />
<text class="t" x="587" y="347" font-size="5.7" text-anchor="end" fill="#000" font-weight="normal" >0</text>
<line x1="587.8" y1="325.74" x2="589.6" y2="325.74" stroke="#000" stroke-width="0.6" />
<text class="t" x="587" y="327.44" font-size="5.7" text-anchor="end" fill="#000" font-weight="normal" >20</text>
<line x1="587.8" y1="306.18" x2="589.6" y2="306.18" stroke="#000" stroke-width="0.6" />
<text class="t" x="587" y="307.88" font-size="5.7" text-anchor="end" fill="#000" font-weight="normal" >40</text>
<line x1="587.8" y1="286.62" x2="589.6" y2="286.62" stroke="#000" stroke-width="0.6" />
<text class="t" x="587" y="288.32" font-size="5.7" text-anchor="end" fill="#000" font-weight="normal" >60</text>
<line x1="587.8" y1="267.06" x2="589.6" y2="267.06" stroke="#000" stroke-width="0.6" />
<text class="t" x="587" y="268.76" font-size="5.7" text-anchor="end" fill="#000" font-weight="normal" >80</text>
<text x="0" y="0" font-size="6.7" text-anchor="middle" fill="#000" font-weight="normal" transform="translate(577.21,306.2) rotate(-90)">LDL (mg/100 ml)</text>
<line x1="597.85" y1="327.7" x2="597.85" y2="331.31" stroke="#000" stroke-width="0.6" />
<line x1="596.25" y1="327.7" x2="599.45" y2="327.7" stroke="#000" stroke-width="0.6" />
<rect x="593.1" y="331.31" width="9.6" height="13.99" fill="#fff" stroke="#333" stroke-width="0.6"/>
<line x1="613.35" y1="299.04" x2="613.35" y2="305.2" stroke="#000" stroke-width="0.7" />
<line x1="611.75" y1="299.04" x2="614.95" y2="299.04" stroke="#000" stroke-width="0.7" />
<rect x="608.3" y="305.2" width="10.1" height="40.1" fill="#000" stroke="none" stroke-width="0.6"/>
<line x1="628.95" y1="277.04" x2="628.95" y2="292" stroke="#FB9A9C" stroke-width="0.55" />
<line x1="627.35" y1="277.04" x2="630.55" y2="277.04" stroke="#FB9A9C" stroke-width="0.6" />
<rect x="623.9" y="292" width="10.1" height="53.3" fill="#FB9A9C" stroke="none" stroke-width="0.6"/>
<line x1="644.65" y1="314.49" x2="644.65" y2="319.87" stroke="#FCB877" stroke-width="0.55" />
<line x1="643.05" y1="314.49" x2="646.25" y2="314.49" stroke="#FCB877" stroke-width="0.6" />
<rect x="639.6" y="319.87" width="10.1" height="25.43" fill="#FCB877" stroke="none" stroke-width="0.6"/>
<line x1="660.25" y1="318.99" x2="660.25" y2="321.44" stroke="#7FA2D3" stroke-width="0.55" />
<line x1="658.65" y1="318.99" x2="661.85" y2="318.99" stroke="#7FA2D3" stroke-width="0.6" />
<rect x="655.2" y="321.44" width="10.1" height="23.86" fill="#7FA2D3" stroke="none" stroke-width="0.6"/>
<line x1="597.3" y1="269.5" x2="613" y2="269.5" stroke="#444" stroke-width="0.65" />
<line x1="597.3" y1="267.7" x2="597.3" y2="271.3" stroke="#444" stroke-width="0.65" />
<line x1="613" y1="267.7" x2="613" y2="271.3" stroke="#444" stroke-width="0.65" />
<text x="604.8" y="269.53" font-size="6.5" text-anchor="middle" fill="#000" font-weight="normal" style="stroke-width:0.3px">*</text>
<line x1="613" y1="269.5" x2="644.5" y2="269.5" stroke="#444" stroke-width="0.65" />
<line x1="613" y1="267.7" x2="613" y2="271.3" stroke="#444" stroke-width="0.65" />
<line x1="644.5" y1="267.7" x2="644.5" y2="271.3" stroke="#444" stroke-width="0.65" />
<text x="629" y="269.53" font-size="6.5" text-anchor="middle" fill="#000" font-weight="normal" style="stroke-width:0.3px">*</text>
<line x1="613.6" y1="261.4" x2="660.5" y2="261.4" stroke="#444" stroke-width="0.65" />
<line x1="613.6" y1="259.6" x2="613.6" y2="263.2" stroke="#444" stroke-width="0.65" />
<line x1="660.5" y1="259.6" x2="660.5" y2="263.2" stroke="#444" stroke-width="0.65" />
<text x="637" y="261.43" font-size="6.5" text-anchor="middle" fill="#000" font-weight="normal" style="stroke-width:0.3px">*</text>
</svg></body></html>
